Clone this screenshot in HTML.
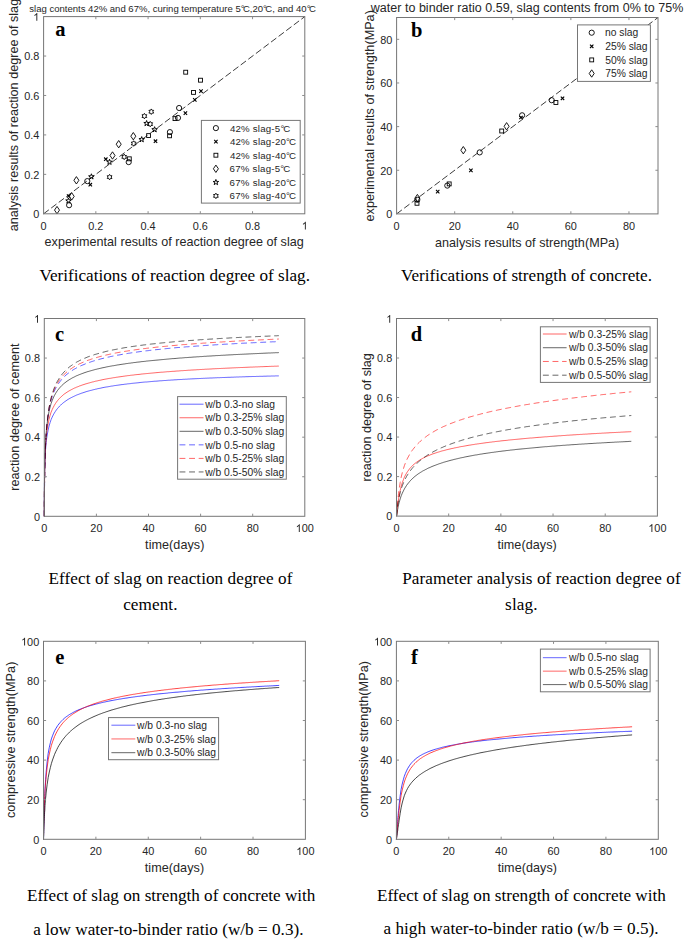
<!DOCTYPE html>
<html><head><meta charset="utf-8"><title>Figure</title>
<style>html,body{margin:0;padding:0;background:#fff;}body{width:685px;height:940px;overflow:hidden;}svg{display:block;}</style>
</head><body>
<svg width="685" height="940" viewBox="0 0 685 940" font-family="Liberation Sans, sans-serif">
<rect width="685" height="940" fill="#fff"/>
<path d="M43.6 213.8L304.8 16.599999999999994" stroke="#262626" stroke-width="0.9" stroke-dasharray="6.6 2.9" fill="none"/>
<circle cx="69.1" cy="205.2" r="2.6" fill="none" stroke="#000" stroke-width="0.9"/>
<circle cx="87.3" cy="181.1" r="2.6" fill="none" stroke="#000" stroke-width="0.9"/>
<circle cx="128.7" cy="162.1" r="2.6" fill="none" stroke="#000" stroke-width="0.9"/>
<circle cx="169.9" cy="132.1" r="2.6" fill="none" stroke="#000" stroke-width="0.9"/>
<circle cx="178" cy="117.9" r="2.6" fill="none" stroke="#000" stroke-width="0.9"/>
<circle cx="179.1" cy="108" r="2.6" fill="none" stroke="#000" stroke-width="0.9"/>
<path d="M66.90 194.30L70.30 197.70M66.90 197.70L70.30 194.30" stroke="#000" stroke-width="1.1"/>
<path d="M88.60 183.00L92.00 186.40M88.60 186.40L92.00 183.00" stroke="#000" stroke-width="1.1"/>
<path d="M104.10 157.50L107.50 160.90M104.10 160.90L107.50 157.50" stroke="#000" stroke-width="1.1"/>
<path d="M153.80 139.50L157.20 142.90M153.80 142.90L157.20 139.50" stroke="#000" stroke-width="1.1"/>
<path d="M183.70 111.40L187.10 114.80M183.70 114.80L187.10 111.40" stroke="#000" stroke-width="1.1"/>
<path d="M199.30 89.40L202.70 92.80M199.30 92.80L202.70 89.40" stroke="#000" stroke-width="1.1"/>
<path d="M193.10 98.20L196.50 101.60M193.10 101.60L196.50 98.20" stroke="#000" stroke-width="1.1"/>
<rect x="127.35" y="156.85" width="3.9" height="3.9" fill="none" stroke="#000" stroke-width="0.9"/>
<rect x="146.65" y="133.65" width="3.9" height="3.9" fill="none" stroke="#000" stroke-width="0.9"/>
<rect x="167.65" y="133.85" width="3.9" height="3.9" fill="none" stroke="#000" stroke-width="0.9"/>
<rect x="173.05" y="116.65" width="3.9" height="3.9" fill="none" stroke="#000" stroke-width="0.9"/>
<rect x="183.75" y="70.25" width="3.9" height="3.9" fill="none" stroke="#000" stroke-width="0.9"/>
<rect x="198.55" y="78.25" width="3.9" height="3.9" fill="none" stroke="#000" stroke-width="0.9"/>
<rect x="191.55" y="90.45" width="3.9" height="3.9" fill="none" stroke="#000" stroke-width="0.9"/>
<path d="M57 206.40L59.50 210.1L57 213.80L54.50 210.1Z" fill="none" stroke="#000" stroke-width="0.9"/>
<path d="M71.7 192.70L74.20 196.4L71.7 200.10L69.20 196.4Z" fill="none" stroke="#000" stroke-width="0.9"/>
<path d="M76.4 176.60L78.90 180.3L76.4 184.00L73.90 180.3Z" fill="none" stroke="#000" stroke-width="0.9"/>
<path d="M112.5 151.80L115.00 155.5L112.5 159.20L110.00 155.5Z" fill="none" stroke="#000" stroke-width="0.9"/>
<path d="M118.7 140.50L121.20 144.2L118.7 147.90L116.20 144.2Z" fill="none" stroke="#000" stroke-width="0.9"/>
<path d="M133.3 132.50L135.80 136.2L133.3 139.90L130.80 136.2Z" fill="none" stroke="#000" stroke-width="0.9"/>
<polygon points="68.50,197.90 69.18,199.87 71.26,199.90 69.59,201.16 70.20,203.15 68.50,201.95 66.80,203.15 67.41,201.16 65.74,199.90 67.82,199.87" fill="none" stroke="#000" stroke-width="0.95"/>
<polygon points="91.40,173.80 92.08,175.77 94.16,175.80 92.49,177.06 93.10,179.05 91.40,177.85 89.70,179.05 90.31,177.06 88.64,175.80 90.72,175.77" fill="none" stroke="#000" stroke-width="0.95"/>
<polygon points="109.50,159.20 110.18,161.17 112.26,161.20 110.59,162.46 111.20,164.45 109.50,163.25 107.80,164.45 108.41,162.46 106.74,161.20 108.82,161.17" fill="none" stroke="#000" stroke-width="0.95"/>
<polygon points="141.70,136.60 142.38,138.57 144.46,138.60 142.79,139.86 143.40,141.85 141.70,140.65 140.00,141.85 140.61,139.86 138.94,138.60 141.02,138.57" fill="none" stroke="#000" stroke-width="0.95"/>
<polygon points="154.60,126.70 155.28,128.67 157.36,128.70 155.69,129.96 156.30,131.95 154.60,130.75 152.90,131.95 153.51,129.96 151.84,128.70 153.92,128.67" fill="none" stroke="#000" stroke-width="0.95"/>
<polygon points="146.60,120.50 147.28,122.47 149.36,122.50 147.69,123.76 148.30,125.75 146.60,124.55 144.90,125.75 145.51,123.76 143.84,122.50 145.92,122.47" fill="none" stroke="#000" stroke-width="0.95"/>
<polygon points="109.60,174.35 110.40,175.71 111.98,175.72 111.20,177.10 111.98,178.47 110.40,178.49 109.60,179.85 108.80,178.49 107.22,178.47 108.00,177.10 107.22,175.72 108.80,175.71" fill="none" stroke="#000" stroke-width="0.9"/>
<polygon points="124.20,154.15 125.00,155.51 126.58,155.53 125.80,156.90 126.58,158.28 125.00,158.29 124.20,159.65 123.40,158.29 121.82,158.28 122.60,156.90 121.82,155.53 123.40,155.51" fill="none" stroke="#000" stroke-width="0.9"/>
<polygon points="133.70,140.75 134.50,142.11 136.08,142.12 135.30,143.50 136.08,144.88 134.50,144.89 133.70,146.25 132.90,144.89 131.32,144.88 132.10,143.50 131.32,142.12 132.90,142.11" fill="none" stroke="#000" stroke-width="0.9"/>
<polygon points="150.20,121.35 151.00,122.71 152.58,122.72 151.80,124.10 152.58,125.47 151.00,125.49 150.20,126.85 149.40,125.49 147.82,125.47 148.60,124.10 147.82,122.72 149.40,122.71" fill="none" stroke="#000" stroke-width="0.9"/>
<polygon points="144.40,113.35 145.20,114.71 146.78,114.72 146.00,116.10 146.78,117.47 145.20,117.49 144.40,118.85 143.60,117.49 142.02,117.47 142.80,116.10 142.02,114.72 143.60,114.71" fill="none" stroke="#000" stroke-width="0.9"/>
<polygon points="151.30,108.95 152.10,110.31 153.68,110.33 152.90,111.70 153.68,113.08 152.10,113.09 151.30,114.45 150.50,113.09 148.92,113.08 149.70,111.70 148.92,110.33 150.50,110.31" fill="none" stroke="#000" stroke-width="0.9"/>
<rect x="43.6" y="16.6" width="261.20" height="197.20" fill="none" stroke="#767676" stroke-width="1"/>
<path d="M95.84 213.8v-2.6M95.84 16.6v2.6M148.08 213.8v-2.6M148.08 16.6v2.6M200.32 213.8v-2.6M200.32 16.6v2.6M252.56 213.8v-2.6M252.56 16.6v2.6M43.6 174.36h2.6M304.8 174.36h-2.6M43.6 134.92h2.6M304.8 134.92h-2.6M43.6 95.48h2.6M304.8 95.48h-2.6M43.6 56.04h2.6M304.8 56.04h-2.6" stroke="#8c8c8c" stroke-width="1" fill="none"/>
<text x="40.57" y="229.60" font-size="10.9" fill="#262626">0</text>
<text x="88.26" y="229.60" font-size="10.9" fill="#262626">0.2</text>
<text x="140.50" y="229.60" font-size="10.9" fill="#262626">0.4</text>
<text x="192.74" y="229.60" font-size="10.9" fill="#262626">0.6</text>
<text x="244.98" y="229.60" font-size="10.9" fill="#262626">0.8</text>
<path transform="translate(301.77 229.60) scale(0.00532 -0.00532)" d="M763 0L583 0L583 1147Q518 1085 412 1023Q306 961 222 930L222 1104Q373 1175 486 1276Q599 1377 646 1466L763 1466Z" fill="#262626"/>
<text x="33.24" y="218.05" font-size="10.9" fill="#262626">0</text>
<text x="24.15" y="178.61" font-size="10.9" fill="#262626">0.2</text>
<text x="24.15" y="139.17" font-size="10.9" fill="#262626">0.4</text>
<text x="24.15" y="99.73" font-size="10.9" fill="#262626">0.6</text>
<text x="24.15" y="60.29" font-size="10.9" fill="#262626">0.8</text>
<path transform="translate(33.24 20.85) scale(0.00532 -0.00532)" d="M763 0L583 0L583 1147Q518 1085 412 1023Q306 961 222 930L222 1104Q373 1175 486 1276Q599 1377 646 1466L763 1466Z" fill="#262626"/>
<text x="29.26" y="12.00" font-family="Liberation Sans, sans-serif" font-size="9.55" letter-spacing="-0.006" fill="#262626">slag contents 42% and 67%, curing temperature 5°<tspan dx="-1.60">C</tspan>,20°<tspan dx="-1.60">C</tspan>, and 40°<tspan dx="-1.60">C</tspan></text>
<text x="44.60" y="246.20" font-family="Liberation Sans, sans-serif" font-size="12.6" letter-spacing="0.018" fill="#262626">experimental results of reaction degree of slag</text>
<text transform="translate(17.70 230.70) rotate(-90)" x="-0.50" y="0" font-family="Liberation Sans, sans-serif" font-size="12.6" letter-spacing="0.015" fill="#262626">analysis results of reaction degree of slag</text>
<text x="55.28" y="36.00" font-family="Liberation Serif, serif" font-weight="bold" font-size="20.5" letter-spacing="0.000" fill="#000">a</text>
<rect x="201.4" y="120.4" width="98.80" height="82.70" fill="#fff" stroke="#767676" stroke-width="1"/>
<circle cx="215.9" cy="128.1" r="2.6" fill="none" stroke="#000" stroke-width="0.9"/>
<text x="229.91" y="131.60" font-family="Liberation Sans, sans-serif" font-size="9.7" letter-spacing="0.202" fill="#262626">42% slag-5°<tspan dx="-1.20">C</tspan></text>
<path d="M214.20 139.96L217.60 143.36M214.20 143.36L217.60 139.96" stroke="#000" stroke-width="1.1"/>
<text x="229.91" y="145.16" font-family="Liberation Sans, sans-serif" font-size="9.7" letter-spacing="0.211" fill="#262626">42% slag-20°<tspan dx="-1.20">C</tspan></text>
<rect x="213.95" y="153.27" width="3.9" height="3.9" fill="none" stroke="#000" stroke-width="0.9"/>
<text x="229.91" y="158.72" font-family="Liberation Sans, sans-serif" font-size="9.7" letter-spacing="0.211" fill="#262626">42% slag-40°<tspan dx="-1.20">C</tspan></text>
<path d="M215.9 165.08L218.40 168.78L215.9 172.48L213.40 168.78Z" fill="none" stroke="#000" stroke-width="0.9"/>
<text x="229.61" y="172.28" font-family="Liberation Sans, sans-serif" font-size="9.7" letter-spacing="0.228" fill="#262626">67% slag-5°<tspan dx="-1.20">C</tspan></text>
<polygon points="215.90,179.44 216.58,181.41 218.66,181.44 216.99,182.70 217.60,184.69 215.90,183.49 214.20,184.69 214.81,182.70 213.14,181.44 215.22,181.41" fill="none" stroke="#000" stroke-width="0.95"/>
<text x="229.61" y="185.84" font-family="Liberation Sans, sans-serif" font-size="9.7" letter-spacing="0.236" fill="#262626">67% slag-20°<tspan dx="-1.20">C</tspan></text>
<polygon points="215.90,193.15 216.70,194.51 218.28,194.52 217.50,195.90 218.28,197.27 216.70,197.29 215.90,198.65 215.10,197.29 213.52,197.27 214.30,195.90 213.52,194.52 215.10,194.51" fill="none" stroke="#000" stroke-width="0.9"/>
<text x="229.61" y="199.40" font-family="Liberation Sans, sans-serif" font-size="9.7" letter-spacing="0.236" fill="#262626">67% slag-40°<tspan dx="-1.20">C</tspan></text>
<text x="39.43" y="281.30" font-family="Liberation Serif, serif" font-size="17.15" letter-spacing="0.006" fill="#000">Verifications of reaction degree of slag.</text>
<path d="M396.6 213.9L658.0 17.5" stroke="#262626" stroke-width="0.9" stroke-dasharray="6.6 2.9" fill="none"/>
<circle cx="417.3" cy="199.8" r="2.6" fill="none" stroke="#000" stroke-width="0.9"/>
<circle cx="447.3" cy="185.6" r="2.6" fill="none" stroke="#000" stroke-width="0.9"/>
<circle cx="479.7" cy="152.4" r="2.6" fill="none" stroke="#000" stroke-width="0.9"/>
<circle cx="522.1" cy="115.3" r="2.6" fill="none" stroke="#000" stroke-width="0.9"/>
<circle cx="551.7" cy="100.2" r="2.6" fill="none" stroke="#000" stroke-width="0.9"/>
<path d="M436.00 189.90L439.40 193.30M436.00 193.30L439.40 189.90" stroke="#000" stroke-width="1.1"/>
<path d="M469.20 168.70L472.60 172.10M469.20 172.10L472.60 168.70" stroke="#000" stroke-width="1.1"/>
<path d="M519.30 115.80L522.70 119.20M519.30 119.20L522.70 115.80" stroke="#000" stroke-width="1.1"/>
<path d="M560.80 96.60L564.20 100.00M560.80 100.00L564.20 96.60" stroke="#000" stroke-width="1.1"/>
<rect x="415.05" y="201.35" width="3.9" height="3.9" fill="none" stroke="#000" stroke-width="0.9"/>
<rect x="447.25" y="181.95" width="3.9" height="3.9" fill="none" stroke="#000" stroke-width="0.9"/>
<rect x="499.75" y="129.05" width="3.9" height="3.9" fill="none" stroke="#000" stroke-width="0.9"/>
<rect x="553.95" y="100.55" width="3.9" height="3.9" fill="none" stroke="#000" stroke-width="0.9"/>
<path d="M417.4 194.40L419.90 198.1L417.4 201.80L414.90 198.1Z" fill="none" stroke="#000" stroke-width="0.9"/>
<path d="M463.3 146.50L465.80 150.2L463.3 153.90L460.80 150.2Z" fill="none" stroke="#000" stroke-width="0.9"/>
<path d="M506.6 122.60L509.10 126.3L506.6 130.00L504.10 126.3Z" fill="none" stroke="#000" stroke-width="0.9"/>
<rect x="396.6" y="17.5" width="261.40" height="196.40" fill="none" stroke="#767676" stroke-width="1"/>
<path d="M454.69 213.9v-2.6M454.69 17.5v2.6M512.78 213.9v-2.6M512.78 17.5v2.6M570.87 213.9v-2.6M570.87 17.5v2.6M628.96 213.9v-2.6M628.96 17.5v2.6M396.6 170.26h2.6M658 170.26h-2.6M396.6 126.61h2.6M658 126.61h-2.6M396.6 82.97h2.6M658 82.97h-2.6M396.6 39.32h2.6M658 39.32h-2.6" stroke="#8c8c8c" stroke-width="1" fill="none"/>
<text x="393.57" y="229.70" font-size="10.9" fill="#262626">0</text>
<text x="448.63" y="229.70" font-size="10.9" fill="#262626">20</text>
<text x="506.72" y="229.70" font-size="10.9" fill="#262626">40</text>
<text x="564.80" y="229.70" font-size="10.9" fill="#262626">60</text>
<text x="622.89" y="229.70" font-size="10.9" fill="#262626">80</text>
<text x="386.24" y="218.15" font-size="10.9" fill="#262626">0</text>
<text x="380.18" y="174.51" font-size="10.9" fill="#262626">20</text>
<text x="380.18" y="130.86" font-size="10.9" fill="#262626">40</text>
<text x="380.18" y="87.22" font-size="10.9" fill="#262626">60</text>
<text x="380.18" y="43.57" font-size="10.9" fill="#262626">80</text>
<text x="370.76" y="11.80" font-family="Liberation Sans, sans-serif" font-size="12.5" letter-spacing="0.023" fill="#262626">water to binder ratio 0.59, slag contents from 0% to 75%</text>
<text x="435.00" y="246.80" font-family="Liberation Sans, sans-serif" font-size="12.6" letter-spacing="0.029" fill="#262626">analysis results of strength(MPa)</text>
<text transform="translate(373.90 221.00) rotate(-90)" x="-0.50" y="0" font-family="Liberation Sans, sans-serif" font-size="12.6" letter-spacing="0.038" fill="#262626">experimental results of strength(MPa)</text>
<text x="411.00" y="36.50" font-family="Liberation Serif, serif" font-weight="bold" font-size="20.5" letter-spacing="0.000" fill="#000">b</text>
<rect x="577.5" y="24.9" width="72.90" height="56.50" fill="#fff" stroke="#767676" stroke-width="1"/>
<circle cx="591.7" cy="32.7" r="2.6" fill="none" stroke="#000" stroke-width="0.9"/>
<text x="605.03" y="36.40" font-size="10.3" fill="#262626">no slag</text>
<path d="M590.00 44.60L593.40 48.00M590.00 48.00L593.40 44.60" stroke="#000" stroke-width="1.1"/>
<text x="605.19" y="50.00" font-size="10.3" fill="#262626">25% slag</text>
<rect x="589.75" y="57.95" width="3.9" height="3.9" fill="none" stroke="#000" stroke-width="0.9"/>
<text x="605.29" y="63.60" font-size="10.3" fill="#262626">50% slag</text>
<path d="M591.7 69.80L594.20 73.5L591.7 77.20L589.20 73.5Z" fill="none" stroke="#000" stroke-width="0.9"/>
<text x="605.19" y="77.20" font-size="10.3" fill="#262626">75% slag</text>
<text x="400.93" y="281.30" font-family="Liberation Serif, serif" font-size="17.15" letter-spacing="0.005" fill="#000">Verifications of strength of concrete.</text>
<path d="M44.3 516.3 44.3 507.1 44.3 506.3 44.3 505.4 44.3 504.4 44.3 503.4 44.3 502.2 44.3 501.0 44.3 499.6 44.3 498.9 44.3 498.2 44.3 497.4 44.3 496.6 44.3 495.8 44.3 495.0 44.3 494.1 44.4 493.2 44.4 492.3 44.4 491.3 44.4 490.3 44.4 489.2 44.4 488.1 44.4 487.0 44.4 485.9 44.4 484.7 44.4 483.5 44.5 482.2 44.5 480.9 44.5 479.6 44.5 478.3 44.5 476.9 44.6 475.4 44.6 473.9 44.6 472.4 44.7 470.9 44.7 469.3 44.7 467.7 44.8 466.1 44.8 464.4 44.9 462.7 45.0 461.0 45.0 459.2 45.1 457.5 45.2 455.7 45.3 453.8 45.4 452.0 45.5 450.1 45.7 448.3 45.8 446.4 46.0 444.5 46.2 442.6 46.4 440.7 46.6 438.8 46.9 436.9 48.0 430.7 49.0 426.1 50.1 422.5 51.1 419.6 52.2 417.1 53.3 414.9 54.3 413.1 55.4 411.4 56.4 409.9 57.5 408.5 58.6 407.3 59.6 406.1 60.7 405.1 61.7 404.1 62.8 403.2 63.8 402.4 64.9 401.6 66.0 400.8 67.0 400.1 68.1 399.4 69.1 398.8 70.2 398.2 71.3 397.6 72.3 397.1 73.4 396.6 74.4 396.1 75.5 395.6 76.5 395.1 77.6 394.7 78.7 394.3 79.7 393.9 80.8 393.5 81.8 393.1 82.9 392.8 84.0 392.4 85.0 392.1 86.1 391.7 87.1 391.4 88.2 391.1 89.3 390.8 90.3 390.5 91.4 390.3 92.4 390.0 93.5 389.7 94.5 389.5 95.6 389.2 96.7 389.0 97.7 388.7 98.8 388.5 99.8 388.3 100.9 388.1 102.0 387.8 103.0 387.6 104.1 387.4 105.1 387.2 106.2 387.0 107.2 386.9 108.3 386.7 109.4 386.5 110.4 386.3 111.5 386.1 112.5 386.0 113.6 385.8 114.7 385.6 115.7 385.5 116.8 385.3 117.8 385.2 118.9 385.0 120.0 384.9 121.0 384.7 122.1 384.6 123.1 384.5 124.2 384.3 125.2 384.2 126.3 384.1 127.4 383.9 128.4 383.8 129.5 383.7 130.5 383.6 131.6 383.4 132.7 383.3 133.7 383.2 134.8 383.1 135.8 383.0 136.9 382.9 137.9 382.8 139.0 382.7 140.1 382.5 141.1 382.4 142.2 382.3 143.2 382.2 144.3 382.1 145.4 382.0 146.4 382.0 147.5 381.9 148.5 381.8 149.6 381.7 150.7 381.6 151.7 381.5 152.8 381.4 153.8 381.3 154.9 381.2 155.9 381.2 157.0 381.1 158.1 381.0 159.1 380.9 160.2 380.8 161.2 380.8 162.3 380.7 163.4 380.6 164.4 380.5 165.5 380.5 166.5 380.4 167.6 380.3 168.7 380.2 169.7 380.2 170.8 380.1 171.8 380.0 172.9 380.0 173.9 379.9 175.0 379.8 176.1 379.8 177.1 379.7 178.2 379.6 179.2 379.6 180.3 379.5 181.4 379.5 182.4 379.4 183.5 379.3 184.5 379.3 185.6 379.2 186.6 379.2 187.7 379.1 188.8 379.0 189.8 379.0 190.9 378.9 191.9 378.9 193.0 378.8 194.1 378.8 195.1 378.7 196.2 378.7 197.2 378.6 198.3 378.6 199.4 378.5 200.4 378.5 201.5 378.4 202.5 378.4 203.6 378.3 204.6 378.3 205.7 378.2 206.8 378.2 207.8 378.1 208.9 378.1 209.9 378.0 211.0 378.0 212.1 378.0 213.1 377.9 214.2 377.9 215.2 377.8 216.3 377.8 217.3 377.7 218.4 377.7 219.5 377.7 220.5 377.6 221.6 377.6 222.6 377.5 223.7 377.5 224.8 377.5 225.8 377.4 226.9 377.4 227.9 377.3 229.0 377.3 230.1 377.3 231.1 377.2 232.2 377.2 233.2 377.2 234.3 377.1 235.3 377.1 236.4 377.0 237.5 377.0 238.5 377.0 239.6 376.9 240.6 376.9 241.7 376.9 242.8 376.8 243.8 376.8 244.9 376.8 245.9 376.7 247.0 376.7 248.0 376.7 249.1 376.6 250.2 376.6 251.2 376.6 252.3 376.5 253.3 376.5 254.4 376.5 255.5 376.5 256.5 376.4 257.6 376.4 258.6 376.4 259.7 376.3 260.8 376.3 261.8 376.3 262.9 376.3 263.9 376.2 265.0 376.2 266.0 376.2 267.1 376.1 268.2 376.1 269.2 376.1 270.3 376.1 271.3 376.0 272.4 376.0 273.5 376.0 274.5 376.0 275.6 375.9 276.6 375.9 277.7 375.9 278.8 375.9" fill="none" stroke="#0000ff" stroke-width="1.0" stroke-opacity="0.6"/>
<path d="M44.3 516.3 44.3 515.6 44.3 514.8 44.3 513.9 44.3 513.0 44.3 512.0 44.3 510.7 44.3 510.0 44.3 509.2 44.3 508.3 44.3 507.4 44.3 506.4 44.4 505.3 44.4 504.2 44.4 503.0 44.4 501.7 44.4 500.4 44.4 499.0 44.4 497.5 44.4 495.9 44.4 494.3 44.4 492.6 44.5 490.9 44.5 489.1 44.5 487.2 44.5 485.3 44.5 483.3 44.6 481.3 44.6 479.2 44.6 477.1 44.7 475.0 44.7 472.8 44.7 470.6 44.8 468.4 44.8 466.1 44.9 463.8 45.0 461.5 45.0 459.2 45.1 456.9 45.2 454.6 45.3 452.2 45.4 449.9 45.5 447.6 45.7 445.3 45.8 442.9 46.0 440.6 46.2 438.3 46.4 436.1 46.6 433.8 46.9 431.6 48.0 424.5 49.0 419.4 50.1 415.4 51.1 412.2 52.2 409.6 53.3 407.3 54.3 405.4 55.4 403.6 56.4 402.1 57.5 400.7 58.6 399.4 59.6 398.3 60.7 397.2 61.7 396.2 62.8 395.3 63.8 394.4 64.9 393.6 66.0 392.9 67.0 392.2 68.1 391.5 69.1 390.9 70.2 390.3 71.3 389.7 72.3 389.2 73.4 388.6 74.4 388.1 75.5 387.7 76.5 387.2 77.6 386.8 78.7 386.4 79.7 385.9 80.8 385.6 81.8 385.2 82.9 384.8 84.0 384.5 85.0 384.1 86.1 383.8 87.1 383.5 88.2 383.2 89.3 382.9 90.3 382.6 91.4 382.3 92.4 382.0 93.5 381.8 94.5 381.5 95.6 381.2 96.7 381.0 97.7 380.8 98.8 380.5 99.8 380.3 100.9 380.1 102.0 379.8 103.0 379.6 104.1 379.4 105.1 379.2 106.2 379.0 107.2 378.8 108.3 378.6 109.4 378.4 110.4 378.3 111.5 378.1 112.5 377.9 113.6 377.7 114.7 377.6 115.7 377.4 116.8 377.2 117.8 377.1 118.9 376.9 120.0 376.8 121.0 376.6 122.1 376.5 123.1 376.3 124.2 376.2 125.2 376.0 126.3 375.9 127.4 375.7 128.4 375.6 129.5 375.5 130.5 375.3 131.6 375.2 132.7 375.1 133.7 375.0 134.8 374.8 135.8 374.7 136.9 374.6 137.9 374.5 139.0 374.4 140.1 374.3 141.1 374.1 142.2 374.0 143.2 373.9 144.3 373.8 145.4 373.7 146.4 373.6 147.5 373.5 148.5 373.4 149.6 373.3 150.7 373.2 151.7 373.1 152.8 373.0 153.8 372.9 154.9 372.8 155.9 372.7 157.0 372.6 158.1 372.5 159.1 372.4 160.2 372.3 161.2 372.2 162.3 372.2 163.4 372.1 164.4 372.0 165.5 371.9 166.5 371.8 167.6 371.7 168.7 371.7 169.7 371.6 170.8 371.5 171.8 371.4 172.9 371.3 173.9 371.3 175.0 371.2 176.1 371.1 177.1 371.0 178.2 371.0 179.2 370.9 180.3 370.8 181.4 370.7 182.4 370.7 183.5 370.6 184.5 370.5 185.6 370.5 186.6 370.4 187.7 370.3 188.8 370.2 189.8 370.2 190.9 370.1 191.9 370.0 193.0 370.0 194.1 369.9 195.1 369.9 196.2 369.8 197.2 369.7 198.3 369.7 199.4 369.6 200.4 369.5 201.5 369.5 202.5 369.4 203.6 369.4 204.6 369.3 205.7 369.2 206.8 369.2 207.8 369.1 208.9 369.1 209.9 369.0 211.0 369.0 212.1 368.9 213.1 368.8 214.2 368.8 215.2 368.7 216.3 368.7 217.3 368.6 218.4 368.6 219.5 368.5 220.5 368.5 221.6 368.4 222.6 368.4 223.7 368.3 224.8 368.3 225.8 368.2 226.9 368.2 227.9 368.1 229.0 368.1 230.1 368.0 231.1 368.0 232.2 367.9 233.2 367.9 234.3 367.8 235.3 367.8 236.4 367.7 237.5 367.7 238.5 367.6 239.6 367.6 240.6 367.5 241.7 367.5 242.8 367.5 243.8 367.4 244.9 367.4 245.9 367.3 247.0 367.3 248.0 367.2 249.1 367.2 250.2 367.1 251.2 367.1 252.3 367.1 253.3 367.0 254.4 367.0 255.5 366.9 256.5 366.9 257.6 366.9 258.6 366.8 259.7 366.8 260.8 366.7 261.8 366.7 262.9 366.7 263.9 366.6 265.0 366.6 266.0 366.5 267.1 366.5 268.2 366.5 269.2 366.4 270.3 366.4 271.3 366.3 272.4 366.3 273.5 366.3 274.5 366.2 275.6 366.2 276.6 366.2 277.7 366.1 278.8 366.1" fill="none" stroke="#ff0000" stroke-width="1.0" stroke-opacity="0.6"/>
<path d="M44.3 516.3 44.3 512.1 44.3 511.2 44.3 510.5 44.3 509.7 44.3 508.8 44.3 507.8 44.3 506.7 44.3 505.4 44.3 504.7 44.3 503.9 44.3 503.1 44.3 502.3 44.3 501.4 44.3 500.5 44.4 499.5 44.4 498.5 44.4 497.4 44.4 496.3 44.4 495.1 44.4 493.8 44.4 492.5 44.4 491.1 44.4 489.7 44.4 488.2 44.5 486.6 44.5 485.0 44.5 483.3 44.5 481.5 44.5 479.7 44.6 477.8 44.6 475.8 44.6 473.8 44.7 471.8 44.7 469.6 44.7 467.5 44.8 465.2 44.8 462.9 44.9 460.6 45.0 458.2 45.0 455.8 45.1 453.4 45.2 450.9 45.3 448.4 45.4 445.9 45.5 443.3 45.7 440.8 45.8 438.2 46.0 435.6 46.2 433.1 46.4 430.5 46.6 427.9 46.9 425.4 48.0 417.4 49.0 411.5 50.1 407.1 51.1 403.5 52.2 400.5 53.3 397.9 54.3 395.7 55.4 393.8 56.4 392.1 57.5 390.5 58.6 389.1 59.6 387.9 60.7 386.7 61.7 385.6 62.8 384.6 63.8 383.7 64.9 382.8 66.0 382.0 67.0 381.2 68.1 380.5 69.1 379.8 70.2 379.2 71.3 378.5 72.3 377.9 73.4 377.4 74.4 376.9 75.5 376.3 76.5 375.8 77.6 375.4 78.7 374.9 79.7 374.5 80.8 374.1 81.8 373.7 82.9 373.3 84.0 372.9 85.0 372.5 86.1 372.2 87.1 371.8 88.2 371.5 89.3 371.2 90.3 370.9 91.4 370.6 92.4 370.3 93.5 370.0 94.5 369.7 95.6 369.4 96.7 369.2 97.7 368.9 98.8 368.7 99.8 368.4 100.9 368.2 102.0 367.9 103.0 367.7 104.1 367.5 105.1 367.3 106.2 367.0 107.2 366.8 108.3 366.6 109.4 366.4 110.4 366.2 111.5 366.0 112.5 365.8 113.6 365.7 114.7 365.5 115.7 365.3 116.8 365.1 117.8 364.9 118.9 364.8 120.0 364.6 121.0 364.4 122.1 364.3 123.1 364.1 124.2 364.0 125.2 363.8 126.3 363.6 127.4 363.5 128.4 363.3 129.5 363.2 130.5 363.1 131.6 362.9 132.7 362.8 133.7 362.6 134.8 362.5 135.8 362.4 136.9 362.2 137.9 362.1 139.0 362.0 140.1 361.9 141.1 361.7 142.2 361.6 143.2 361.5 144.3 361.4 145.4 361.3 146.4 361.1 147.5 361.0 148.5 360.9 149.6 360.8 150.7 360.7 151.7 360.6 152.8 360.5 153.8 360.4 154.9 360.3 155.9 360.2 157.0 360.1 158.1 360.0 159.1 359.9 160.2 359.8 161.2 359.7 162.3 359.6 163.4 359.5 164.4 359.4 165.5 359.3 166.5 359.2 167.6 359.1 168.7 359.0 169.7 358.9 170.8 358.8 171.8 358.7 172.9 358.6 173.9 358.6 175.0 358.5 176.1 358.4 177.1 358.3 178.2 358.2 179.2 358.1 180.3 358.0 181.4 358.0 182.4 357.9 183.5 357.8 184.5 357.7 185.6 357.6 186.6 357.6 187.7 357.5 188.8 357.4 189.8 357.3 190.9 357.3 191.9 357.2 193.0 357.1 194.1 357.0 195.1 357.0 196.2 356.9 197.2 356.8 198.3 356.8 199.4 356.7 200.4 356.6 201.5 356.6 202.5 356.5 203.6 356.4 204.6 356.3 205.7 356.3 206.8 356.2 207.8 356.1 208.9 356.1 209.9 356.0 211.0 356.0 212.1 355.9 213.1 355.8 214.2 355.8 215.2 355.7 216.3 355.6 217.3 355.6 218.4 355.5 219.5 355.5 220.5 355.4 221.6 355.3 222.6 355.3 223.7 355.2 224.8 355.2 225.8 355.1 226.9 355.0 227.9 355.0 229.0 354.9 230.1 354.9 231.1 354.8 232.2 354.8 233.2 354.7 234.3 354.6 235.3 354.6 236.4 354.5 237.5 354.5 238.5 354.4 239.6 354.4 240.6 354.3 241.7 354.3 242.8 354.2 243.8 354.2 244.9 354.1 245.9 354.1 247.0 354.0 248.0 354.0 249.1 353.9 250.2 353.9 251.2 353.8 252.3 353.8 253.3 353.7 254.4 353.7 255.5 353.6 256.5 353.6 257.6 353.5 258.6 353.5 259.7 353.4 260.8 353.4 261.8 353.3 262.9 353.3 263.9 353.2 265.0 353.2 266.0 353.1 267.1 353.1 268.2 353.0 269.2 353.0 270.3 353.0 271.3 352.9 272.4 352.9 273.5 352.8 274.5 352.8 275.6 352.7 276.6 352.7 277.7 352.7 278.8 352.6" fill="none" stroke="#000000" stroke-width="1.0" stroke-opacity="0.6"/>
<path d="M44.3 516.3 44.3 515.5 44.3 514.6 44.3 513.9 44.3 512.9 44.3 511.7 44.3 511.0 44.3 510.2 44.4 509.3 44.4 508.4 44.4 507.3 44.4 506.2 44.4 505.0 44.4 503.6 44.4 502.2 44.4 500.7 44.4 499.1 44.4 497.4 44.5 495.6 44.5 493.7 44.5 491.7 44.5 489.7 44.5 487.5 44.6 485.3 44.6 483.0 44.6 480.6 44.7 478.1 44.7 475.6 44.7 473.0 44.8 470.4 44.8 467.7 44.9 465.0 45.0 462.2 45.0 459.4 45.1 456.6 45.2 453.7 45.3 450.8 45.4 447.9 45.5 445.0 45.7 442.1 45.8 439.2 46.0 436.3 46.2 433.4 46.4 430.5 46.6 427.6 46.9 424.8 48.0 415.7 49.0 409.2 50.1 404.1 51.1 400.0 52.2 396.6 53.3 393.7 54.3 391.1 55.4 388.9 56.4 386.9 57.5 385.1 58.6 383.5 59.6 382.0 60.7 380.7 61.7 379.4 62.8 378.2 63.8 377.1 64.9 376.1 66.0 375.1 67.0 374.2 68.1 373.4 69.1 372.6 70.2 371.8 71.3 371.1 72.3 370.4 73.4 369.7 74.4 369.1 75.5 368.5 76.5 367.9 77.6 367.4 78.7 366.8 79.7 366.3 80.8 365.8 81.8 365.4 82.9 364.9 84.0 364.5 85.0 364.0 86.1 363.6 87.1 363.2 88.2 362.8 89.3 362.4 90.3 362.1 91.4 361.7 92.4 361.4 93.5 361.0 94.5 360.7 95.6 360.4 96.7 360.1 97.7 359.8 98.8 359.5 99.8 359.2 100.9 358.9 102.0 358.6 103.0 358.4 104.1 358.1 105.1 357.8 106.2 357.6 107.2 357.3 108.3 357.1 109.4 356.9 110.4 356.6 111.5 356.4 112.5 356.2 113.6 356.0 114.7 355.8 115.7 355.6 116.8 355.3 117.8 355.1 118.9 355.0 120.0 354.8 121.0 354.6 122.1 354.4 123.1 354.2 124.2 354.0 125.2 353.8 126.3 353.7 127.4 353.5 128.4 353.3 129.5 353.2 130.5 353.0 131.6 352.8 132.7 352.7 133.7 352.5 134.8 352.4 135.8 352.2 136.9 352.1 137.9 351.9 139.0 351.8 140.1 351.6 141.1 351.5 142.2 351.4 143.2 351.2 144.3 351.1 145.4 350.9 146.4 350.8 147.5 350.7 148.5 350.6 149.6 350.4 150.7 350.3 151.7 350.2 152.8 350.1 153.8 349.9 154.9 349.8 155.9 349.7 157.0 349.6 158.1 349.5 159.1 349.4 160.2 349.3 161.2 349.1 162.3 349.0 163.4 348.9 164.4 348.8 165.5 348.7 166.5 348.6 167.6 348.5 168.7 348.4 169.7 348.3 170.8 348.2 171.8 348.1 172.9 348.0 173.9 347.9 175.0 347.8 176.1 347.7 177.1 347.6 178.2 347.5 179.2 347.5 180.3 347.4 181.4 347.3 182.4 347.2 183.5 347.1 184.5 347.0 185.6 346.9 186.6 346.8 187.7 346.8 188.8 346.7 189.8 346.6 190.9 346.5 191.9 346.4 193.0 346.4 194.1 346.3 195.1 346.2 196.2 346.1 197.2 346.0 198.3 346.0 199.4 345.9 200.4 345.8 201.5 345.7 202.5 345.7 203.6 345.6 204.6 345.5 205.7 345.4 206.8 345.4 207.8 345.3 208.9 345.2 209.9 345.2 211.0 345.1 212.1 345.0 213.1 345.0 214.2 344.9 215.2 344.8 216.3 344.8 217.3 344.7 218.4 344.6 219.5 344.6 220.5 344.5 221.6 344.4 222.6 344.4 223.7 344.3 224.8 344.2 225.8 344.2 226.9 344.1 227.9 344.1 229.0 344.0 230.1 343.9 231.1 343.9 232.2 343.8 233.2 343.8 234.3 343.7 235.3 343.6 236.4 343.6 237.5 343.5 238.5 343.5 239.6 343.4 240.6 343.4 241.7 343.3 242.8 343.2 243.8 343.2 244.9 343.1 245.9 343.1 247.0 343.0 248.0 343.0 249.1 342.9 250.2 342.9 251.2 342.8 252.3 342.8 253.3 342.7 254.4 342.7 255.5 342.6 256.5 342.6 257.6 342.5 258.6 342.5 259.7 342.4 260.8 342.4 261.8 342.3 262.9 342.3 263.9 342.2 265.0 342.2 266.0 342.1 267.1 342.1 268.2 342.0 269.2 342.0 270.3 341.9 271.3 341.9 272.4 341.8 273.5 341.8 274.5 341.8 275.6 341.7 276.6 341.7 277.7 341.6 278.8 341.6" fill="none" stroke="#0000ff" stroke-width="1.0" stroke-opacity="0.6" stroke-dasharray="5.9 3.7"/>
<path d="M44.3 516.3 44.3 512.7 44.3 511.9 44.3 511.0 44.3 510.2 44.3 509.4 44.3 508.4 44.3 507.4 44.3 506.1 44.3 504.8 44.3 504.0 44.3 503.2 44.3 502.4 44.4 501.5 44.4 500.6 44.4 499.6 44.4 498.5 44.4 497.4 44.4 496.2 44.4 495.0 44.4 493.7 44.4 492.4 44.4 490.9 44.5 489.5 44.5 487.9 44.5 486.3 44.5 484.6 44.5 482.8 44.6 480.9 44.6 479.0 44.6 477.0 44.7 474.9 44.7 472.8 44.7 470.6 44.8 468.3 44.8 465.9 44.9 463.5 45.0 461.0 45.0 458.4 45.1 455.8 45.2 453.2 45.3 450.5 45.4 447.7 45.5 444.9 45.7 442.1 45.8 439.2 46.0 436.3 46.2 433.4 46.4 430.5 46.6 427.6 46.9 424.6 48.0 415.2 49.0 408.3 50.1 403.0 51.1 398.7 52.2 395.1 53.3 392.0 54.3 389.3 55.4 387.0 56.4 384.9 57.5 383.0 58.6 381.3 59.6 379.8 60.7 378.4 61.7 377.1 62.8 375.8 63.8 374.7 64.9 373.7 66.0 372.7 67.0 371.8 68.1 370.9 69.1 370.1 70.2 369.3 71.3 368.6 72.3 367.9 73.4 367.2 74.4 366.6 75.5 365.9 76.5 365.4 77.6 364.8 78.7 364.3 79.7 363.7 80.8 363.3 81.8 362.8 82.9 362.3 84.0 361.9 85.0 361.4 86.1 361.0 87.1 360.6 88.2 360.2 89.3 359.9 90.3 359.5 91.4 359.1 92.4 358.8 93.5 358.5 94.5 358.1 95.6 357.8 96.7 357.5 97.7 357.2 98.8 356.9 99.8 356.6 100.9 356.3 102.0 356.1 103.0 355.8 104.1 355.5 105.1 355.3 106.2 355.0 107.2 354.8 108.3 354.6 109.4 354.3 110.4 354.1 111.5 353.9 112.5 353.7 113.6 353.4 114.7 353.2 115.7 353.0 116.8 352.8 117.8 352.6 118.9 352.4 120.0 352.2 121.0 352.1 122.1 351.9 123.1 351.7 124.2 351.5 125.2 351.3 126.3 351.2 127.4 351.0 128.4 350.8 129.5 350.7 130.5 350.5 131.6 350.3 132.7 350.2 133.7 350.0 134.8 349.9 135.8 349.7 136.9 349.6 137.9 349.4 139.0 349.3 140.1 349.2 141.1 349.0 142.2 348.9 143.2 348.7 144.3 348.6 145.4 348.5 146.4 348.3 147.5 348.2 148.5 348.1 149.6 348.0 150.7 347.8 151.7 347.7 152.8 347.6 153.8 347.5 154.9 347.4 155.9 347.2 157.0 347.1 158.1 347.0 159.1 346.9 160.2 346.8 161.2 346.7 162.3 346.6 163.4 346.5 164.4 346.4 165.5 346.3 166.5 346.2 167.6 346.1 168.7 346.0 169.7 345.9 170.8 345.8 171.8 345.7 172.9 345.6 173.9 345.5 175.0 345.4 176.1 345.3 177.1 345.2 178.2 345.1 179.2 345.0 180.3 344.9 181.4 344.8 182.4 344.7 183.5 344.6 184.5 344.6 185.6 344.5 186.6 344.4 187.7 344.3 188.8 344.2 189.8 344.1 190.9 344.1 191.9 344.0 193.0 343.9 194.1 343.8 195.1 343.7 196.2 343.7 197.2 343.6 198.3 343.5 199.4 343.4 200.4 343.3 201.5 343.3 202.5 343.2 203.6 343.1 204.6 343.1 205.7 343.0 206.8 342.9 207.8 342.8 208.9 342.8 209.9 342.7 211.0 342.6 212.1 342.6 213.1 342.5 214.2 342.4 215.2 342.4 216.3 342.3 217.3 342.2 218.4 342.2 219.5 342.1 220.5 342.0 221.6 342.0 222.6 341.9 223.7 341.8 224.8 341.8 225.8 341.7 226.9 341.6 227.9 341.6 229.0 341.5 230.1 341.5 231.1 341.4 232.2 341.3 233.2 341.3 234.3 341.2 235.3 341.2 236.4 341.1 237.5 341.0 238.5 341.0 239.6 340.9 240.6 340.9 241.7 340.8 242.8 340.8 243.8 340.7 244.9 340.6 245.9 340.6 247.0 340.5 248.0 340.5 249.1 340.4 250.2 340.4 251.2 340.3 252.3 340.3 253.3 340.2 254.4 340.2 255.5 340.1 256.5 340.1 257.6 340.0 258.6 340.0 259.7 339.9 260.8 339.9 261.8 339.8 262.9 339.8 263.9 339.7 265.0 339.7 266.0 339.6 267.1 339.6 268.2 339.5 269.2 339.5 270.3 339.4 271.3 339.4 272.4 339.3 273.5 339.3 274.5 339.2 275.6 339.2 276.6 339.1 277.7 339.1 278.8 339.0" fill="none" stroke="#ff0000" stroke-width="1.0" stroke-opacity="0.6" stroke-dasharray="5.9 3.7"/>
<path d="M44.3 516.3 44.3 512.6 44.3 511.8 44.3 510.8 44.3 510.1 44.3 509.2 44.3 508.3 44.3 507.2 44.3 506.0 44.3 504.7 44.3 503.9 44.3 503.2 44.3 502.3 44.4 501.5 44.4 500.6 44.4 499.6 44.4 498.6 44.4 497.5 44.4 496.4 44.4 495.2 44.4 493.9 44.4 492.6 44.4 491.2 44.5 489.8 44.5 488.2 44.5 486.7 44.5 485.0 44.5 483.3 44.6 481.5 44.6 479.6 44.6 477.6 44.7 475.6 44.7 473.5 44.7 471.3 44.8 469.0 44.8 466.7 44.9 464.3 45.0 461.8 45.0 459.3 45.1 456.7 45.2 454.1 45.3 451.3 45.4 448.6 45.5 445.7 45.7 442.9 45.8 440.0 46.0 437.0 46.2 434.1 46.4 431.1 46.6 428.0 46.9 425.0 48.0 415.2 49.0 408.0 50.1 402.4 51.1 397.8 52.2 393.9 53.3 390.7 54.3 387.8 55.4 385.3 56.4 383.1 57.5 381.1 58.6 379.3 59.6 377.6 60.7 376.1 61.7 374.7 62.8 373.4 63.8 372.2 64.9 371.1 66.0 370.0 67.0 369.0 68.1 368.1 69.1 367.2 70.2 366.4 71.3 365.6 72.3 364.9 73.4 364.2 74.4 363.5 75.5 362.8 76.5 362.2 77.6 361.6 78.7 361.1 79.7 360.5 80.8 360.0 81.8 359.5 82.9 359.0 84.0 358.5 85.0 358.1 86.1 357.7 87.1 357.2 88.2 356.8 89.3 356.4 90.3 356.0 91.4 355.7 92.4 355.3 93.5 355.0 94.5 354.6 95.6 354.3 96.7 354.0 97.7 353.7 98.8 353.4 99.8 353.1 100.9 352.8 102.0 352.5 103.0 352.2 104.1 352.0 105.1 351.7 106.2 351.4 107.2 351.2 108.3 350.9 109.4 350.7 110.4 350.5 111.5 350.2 112.5 350.0 113.6 349.8 114.7 349.6 115.7 349.4 116.8 349.2 117.8 349.0 118.9 348.8 120.0 348.6 121.0 348.4 122.1 348.2 123.1 348.0 124.2 347.8 125.2 347.6 126.3 347.5 127.4 347.3 128.4 347.1 129.5 347.0 130.5 346.8 131.6 346.6 132.7 346.5 133.7 346.3 134.8 346.2 135.8 346.0 136.9 345.9 137.9 345.7 139.0 345.6 140.1 345.4 141.1 345.3 142.2 345.2 143.2 345.0 144.3 344.9 145.4 344.8 146.4 344.6 147.5 344.5 148.5 344.4 149.6 344.3 150.7 344.1 151.7 344.0 152.8 343.9 153.8 343.8 154.9 343.7 155.9 343.6 157.0 343.4 158.1 343.3 159.1 343.2 160.2 343.1 161.2 343.0 162.3 342.9 163.4 342.8 164.4 342.7 165.5 342.6 166.5 342.5 167.6 342.4 168.7 342.3 169.7 342.2 170.8 342.1 171.8 342.0 172.9 341.9 173.9 341.8 175.0 341.7 176.1 341.6 177.1 341.5 178.2 341.4 179.2 341.3 180.3 341.3 181.4 341.2 182.4 341.1 183.5 341.0 184.5 340.9 185.6 340.8 186.6 340.8 187.7 340.7 188.8 340.6 189.8 340.5 190.9 340.4 191.9 340.4 193.0 340.3 194.1 340.2 195.1 340.1 196.2 340.0 197.2 340.0 198.3 339.9 199.4 339.8 200.4 339.7 201.5 339.7 202.5 339.6 203.6 339.5 204.6 339.5 205.7 339.4 206.8 339.3 207.8 339.3 208.9 339.2 209.9 339.1 211.0 339.1 212.1 339.0 213.1 338.9 214.2 338.9 215.2 338.8 216.3 338.7 217.3 338.7 218.4 338.6 219.5 338.5 220.5 338.5 221.6 338.4 222.6 338.4 223.7 338.3 224.8 338.2 225.8 338.2 226.9 338.1 227.9 338.1 229.0 338.0 230.1 337.9 231.1 337.9 232.2 337.8 233.2 337.8 234.3 337.7 235.3 337.7 236.4 337.6 237.5 337.5 238.5 337.5 239.6 337.4 240.6 337.4 241.7 337.3 242.8 337.3 243.8 337.2 244.9 337.2 245.9 337.1 247.0 337.1 248.0 337.0 249.1 337.0 250.2 336.9 251.2 336.9 252.3 336.8 253.3 336.8 254.4 336.7 255.5 336.7 256.5 336.6 257.6 336.6 258.6 336.5 259.7 336.5 260.8 336.4 261.8 336.4 262.9 336.3 263.9 336.3 265.0 336.2 266.0 336.2 267.1 336.2 268.2 336.1 269.2 336.1 270.3 336.0 271.3 336.0 272.4 335.9 273.5 335.9 274.5 335.8 275.6 335.8 276.6 335.8 277.7 335.7 278.8 335.7" fill="none" stroke="#000000" stroke-width="1.0" stroke-opacity="0.6" stroke-dasharray="5.9 3.7"/>
<rect x="44.3" y="318.5" width="260.50" height="197.80" fill="none" stroke="#767676" stroke-width="1"/>
<path d="M96.40 516.3v-2.6M96.40 318.5v2.6M148.50 516.3v-2.6M148.50 318.5v2.6M200.60 516.3v-2.6M200.60 318.5v2.6M252.70 516.3v-2.6M252.70 318.5v2.6M44.3 476.74h2.6M304.8 476.74h-2.6M44.3 437.18h2.6M304.8 437.18h-2.6M44.3 397.62h2.6M304.8 397.62h-2.6M44.3 358.06h2.6M304.8 358.06h-2.6" stroke="#8c8c8c" stroke-width="1" fill="none"/>
<text x="41.27" y="532.10" font-size="10.9" fill="#262626">0</text>
<text x="90.34" y="532.10" font-size="10.9" fill="#262626">20</text>
<text x="142.44" y="532.10" font-size="10.9" fill="#262626">40</text>
<text x="194.54" y="532.10" font-size="10.9" fill="#262626">60</text>
<text x="246.64" y="532.10" font-size="10.9" fill="#262626">80</text>
<path transform="translate(295.71 532.10) scale(0.00532 -0.00532)" d="M763 0L583 0L583 1147Q518 1085 412 1023Q306 961 222 930L222 1104Q373 1175 486 1276Q599 1377 646 1466L763 1466Z" fill="#262626"/>
<text x="301.77" y="532.10" font-size="10.9" fill="#262626">0</text>
<text x="307.83" y="532.10" font-size="10.9" fill="#262626">0</text>
<text x="33.94" y="520.55" font-size="10.9" fill="#262626">0</text>
<text x="24.85" y="480.99" font-size="10.9" fill="#262626">0.2</text>
<text x="24.85" y="441.43" font-size="10.9" fill="#262626">0.4</text>
<text x="24.85" y="401.87" font-size="10.9" fill="#262626">0.6</text>
<text x="24.85" y="362.31" font-size="10.9" fill="#262626">0.8</text>
<path transform="translate(33.94 322.75) scale(0.00532 -0.00532)" d="M763 0L583 0L583 1147Q518 1085 412 1023Q306 961 222 930L222 1104Q373 1175 486 1276Q599 1377 646 1466L763 1466Z" fill="#262626"/>
<text x="145.11" y="549.30" font-family="Liberation Sans, sans-serif" font-size="12.6" letter-spacing="0.056" fill="#262626">time(days)</text>
<text transform="translate(18.80 489.90) rotate(-90)" x="-0.82" y="0" font-family="Liberation Sans, sans-serif" font-size="12.6" letter-spacing="0.040" fill="#262626">reaction degree of cement</text>
<text x="55.09" y="340.50" font-family="Liberation Serif, serif" font-weight="bold" font-size="20.5" letter-spacing="0.000" fill="#000">c</text>
<rect x="177.6" y="396.6" width="108.70" height="82.60" fill="#fff" stroke="#767676" stroke-width="1"/>
<path d="M179.5 404.20H203.5" stroke="#0000ff" stroke-width="1" stroke-opacity="0.6"/>
<text x="205.15" y="407.90" font-size="10.3" fill="#262626">w/b 0.3-no slag</text>
<path d="M179.5 417.75H203.5" stroke="#ff0000" stroke-width="1" stroke-opacity="0.6"/>
<text x="205.15" y="421.45" font-size="10.3" fill="#262626">w/b 0.3-25% slag</text>
<path d="M179.5 431.30H203.5" stroke="#000000" stroke-width="1" stroke-opacity="0.6"/>
<text x="205.15" y="435.00" font-size="10.3" fill="#262626">w/b 0.3-50% slag</text>
<path d="M179.5 444.85H203.5" stroke="#0000ff" stroke-width="1" stroke-opacity="0.6" stroke-dasharray="5.9 3.7"/>
<text x="205.15" y="448.55" font-size="10.3" fill="#262626">w/b 0.5-no slag</text>
<path d="M179.5 458.40H203.5" stroke="#ff0000" stroke-width="1" stroke-opacity="0.6" stroke-dasharray="5.9 3.7"/>
<text x="205.15" y="462.10" font-size="10.3" fill="#262626">w/b 0.5-25% slag</text>
<path d="M179.5 471.95H203.5" stroke="#000000" stroke-width="1" stroke-opacity="0.6" stroke-dasharray="5.9 3.7"/>
<text x="205.15" y="475.65" font-size="10.3" fill="#262626">w/b 0.5-50% slag</text>
<text x="48.57" y="583.70" font-family="Liberation Serif, serif" font-size="17.15" letter-spacing="0.068" fill="#000">Effect of slag on reaction degree of</text>
<text x="123.20" y="609.60" font-family="Liberation Serif, serif" font-size="17.15" letter-spacing="0.075" fill="#000">cement.</text>
<path d="M396.5 516.1 396.6 515.4 396.7 514.8 396.7 514.0 396.8 513.2 396.9 512.5 397.0 511.6 397.1 510.6 397.2 509.3 397.3 508.6 397.4 507.8 397.5 507.0 397.6 506.0 397.7 505.0 397.9 504.0 398.0 502.8 398.2 501.6 398.4 500.3 398.6 498.9 398.8 497.4 399.1 495.9 400.2 490.5 401.2 486.2 402.3 482.7 403.4 479.7 404.4 477.2 405.5 475.0 406.5 473.2 407.6 471.5 408.7 470.0 409.7 468.6 410.8 467.4 411.8 466.3 412.9 465.2 414.0 464.3 415.0 463.4 416.1 462.6 417.1 461.8 418.2 461.0 419.3 460.4 420.3 459.7 421.4 459.1 422.4 458.5 423.5 457.9 424.6 457.4 425.6 456.9 426.7 456.4 427.7 455.9 428.8 455.5 429.9 455.1 430.9 454.6 432.0 454.2 433.0 453.8 434.1 453.5 435.2 453.1 436.2 452.8 437.3 452.4 438.3 452.1 439.4 451.8 440.5 451.4 441.5 451.1 442.6 450.8 443.6 450.6 444.7 450.3 445.8 450.0 446.8 449.7 447.9 449.5 448.9 449.2 450.0 449.0 451.1 448.7 452.1 448.5 453.2 448.3 454.2 448.0 455.3 447.8 456.4 447.6 457.4 447.4 458.5 447.2 459.5 446.9 460.6 446.7 461.7 446.5 462.7 446.4 463.8 446.2 464.8 446.0 465.9 445.8 467.0 445.6 468.0 445.4 469.1 445.2 470.1 445.1 471.2 444.9 472.3 444.7 473.3 444.6 474.4 444.4 475.4 444.2 476.5 444.1 477.6 443.9 478.6 443.8 479.7 443.6 480.8 443.5 481.8 443.3 482.9 443.2 483.9 443.0 485.0 442.9 486.1 442.7 487.1 442.6 488.2 442.5 489.2 442.3 490.3 442.2 491.4 442.1 492.4 441.9 493.5 441.8 494.5 441.7 495.6 441.5 496.7 441.4 497.7 441.3 498.8 441.2 499.8 441.1 500.9 440.9 502.0 440.8 503.0 440.7 504.1 440.6 505.1 440.5 506.2 440.4 507.3 440.3 508.3 440.1 509.4 440.0 510.4 439.9 511.5 439.8 512.6 439.7 513.6 439.6 514.7 439.5 515.7 439.4 516.8 439.3 517.9 439.2 518.9 439.1 520.0 439.0 521.0 438.9 522.1 438.8 523.2 438.7 524.2 438.6 525.3 438.5 526.3 438.4 527.4 438.3 528.5 438.2 529.5 438.1 530.6 438.0 531.6 438.0 532.7 437.9 533.8 437.8 534.8 437.7 535.9 437.6 536.9 437.5 538.0 437.4 539.1 437.3 540.1 437.3 541.2 437.2 542.2 437.1 543.3 437.0 544.4 436.9 545.4 436.8 546.5 436.8 547.5 436.7 548.6 436.6 549.7 436.5 550.7 436.4 551.8 436.4 552.8 436.3 553.9 436.2 555.0 436.1 556.0 436.1 557.1 436.0 558.2 435.9 559.2 435.8 560.3 435.8 561.3 435.7 562.4 435.6 563.5 435.5 564.5 435.5 565.6 435.4 566.6 435.3 567.7 435.2 568.8 435.2 569.8 435.1 570.9 435.0 571.9 435.0 573.0 434.9 574.1 434.8 575.1 434.8 576.2 434.7 577.2 434.6 578.3 434.6 579.4 434.5 580.4 434.4 581.5 434.4 582.5 434.3 583.6 434.2 584.7 434.2 585.7 434.1 586.8 434.1 587.8 434.0 588.9 433.9 590.0 433.9 591.0 433.8 592.1 433.7 593.1 433.7 594.2 433.6 595.3 433.6 596.3 433.5 597.4 433.4 598.4 433.4 599.5 433.3 600.6 433.3 601.6 433.2 602.7 433.1 603.7 433.1 604.8 433.0 605.9 433.0 606.9 432.9 608.0 432.9 609.0 432.8 610.1 432.7 611.2 432.7 612.2 432.6 613.3 432.6 614.3 432.5 615.4 432.5 616.5 432.4 617.5 432.4 618.6 432.3 619.6 432.3 620.7 432.2 621.8 432.1 622.8 432.1 623.9 432.0 624.9 432.0 626.0 431.9 627.1 431.9 628.1 431.8 629.2 431.8 630.2 431.7 631.3 431.7" fill="none" stroke="#ff0000" stroke-width="1.0" stroke-opacity="0.6"/>
<path d="M396.5 516.1 396.7 515.6 396.8 515.0 396.9 514.2 397.0 513.5 397.2 512.7 397.3 511.7 397.5 510.5 397.6 509.9 397.7 509.2 397.9 508.4 398.0 507.6 398.2 506.7 398.4 505.8 398.6 504.8 398.8 503.8 399.1 502.7 400.2 498.9 401.2 495.8 402.3 493.2 403.4 490.9 404.4 488.9 405.5 487.1 406.5 485.5 407.6 484.0 408.7 482.7 409.7 481.4 410.8 480.3 411.8 479.2 412.9 478.2 414.0 477.2 415.0 476.3 416.1 475.5 417.1 474.7 418.2 473.9 419.3 473.2 420.3 472.5 421.4 471.9 422.4 471.2 423.5 470.6 424.6 470.1 425.6 469.5 426.7 469.0 427.7 468.4 428.8 467.9 429.9 467.5 430.9 467.0 432.0 466.5 433.0 466.1 434.1 465.7 435.2 465.3 436.2 464.9 437.3 464.5 438.3 464.1 439.4 463.7 440.5 463.4 441.5 463.0 442.6 462.7 443.6 462.3 444.7 462.0 445.8 461.7 446.8 461.4 447.9 461.1 448.9 460.8 450.0 460.5 451.1 460.2 452.1 460.0 453.2 459.7 454.2 459.4 455.3 459.2 456.4 458.9 457.4 458.7 458.5 458.4 459.5 458.2 460.6 457.9 461.7 457.7 462.7 457.5 463.8 457.3 464.8 457.0 465.9 456.8 467.0 456.6 468.0 456.4 469.1 456.2 470.1 456.0 471.2 455.8 472.3 455.6 473.3 455.4 474.4 455.2 475.4 455.0 476.5 454.9 477.6 454.7 478.6 454.5 479.7 454.3 480.8 454.1 481.8 454.0 482.9 453.8 483.9 453.6 485.0 453.5 486.1 453.3 487.1 453.2 488.2 453.0 489.2 452.9 490.3 452.7 491.4 452.5 492.4 452.4 493.5 452.3 494.5 452.1 495.6 452.0 496.7 451.8 497.7 451.7 498.8 451.5 499.8 451.4 500.9 451.3 502.0 451.1 503.0 451.0 504.1 450.9 505.1 450.8 506.2 450.6 507.3 450.5 508.3 450.4 509.4 450.3 510.4 450.1 511.5 450.0 512.6 449.9 513.6 449.8 514.7 449.7 515.7 449.5 516.8 449.4 517.9 449.3 518.9 449.2 520.0 449.1 521.0 449.0 522.1 448.9 523.2 448.8 524.2 448.7 525.3 448.6 526.3 448.5 527.4 448.4 528.5 448.3 529.5 448.2 530.6 448.1 531.6 448.0 532.7 447.9 533.8 447.8 534.8 447.7 535.9 447.6 536.9 447.5 538.0 447.4 539.1 447.3 540.1 447.2 541.2 447.1 542.2 447.0 543.3 446.9 544.4 446.8 545.4 446.7 546.5 446.7 547.5 446.6 548.6 446.5 549.7 446.4 550.7 446.3 551.8 446.2 552.8 446.1 553.9 446.1 555.0 446.0 556.0 445.9 557.1 445.8 558.2 445.7 559.2 445.7 560.3 445.6 561.3 445.5 562.4 445.4 563.5 445.3 564.5 445.3 565.6 445.2 566.6 445.1 567.7 445.0 568.8 445.0 569.8 444.9 570.9 444.8 571.9 444.7 573.0 444.7 574.1 444.6 575.1 444.5 576.2 444.5 577.2 444.4 578.3 444.3 579.4 444.2 580.4 444.2 581.5 444.1 582.5 444.0 583.6 444.0 584.7 443.9 585.7 443.8 586.8 443.8 587.8 443.7 588.9 443.6 590.0 443.6 591.0 443.5 592.1 443.5 593.1 443.4 594.2 443.3 595.3 443.3 596.3 443.2 597.4 443.1 598.4 443.1 599.5 443.0 600.6 443.0 601.6 442.9 602.7 442.8 603.7 442.8 604.8 442.7 605.9 442.7 606.9 442.6 608.0 442.5 609.0 442.5 610.1 442.4 611.2 442.4 612.2 442.3 613.3 442.3 614.3 442.2 615.4 442.1 616.5 442.1 617.5 442.0 618.6 442.0 619.6 441.9 620.7 441.9 621.8 441.8 622.8 441.8 623.9 441.7 624.9 441.7 626.0 441.6 627.1 441.6 628.1 441.5 629.2 441.4 630.2 441.4 631.3 441.3" fill="none" stroke="#000000" stroke-width="1.0" stroke-opacity="0.6"/>
<path d="M396.5 516.1 396.6 515.4 396.6 514.7 396.7 513.9 396.8 513.1 396.8 512.3 396.9 511.4 397.0 510.3 397.0 509.6 397.1 508.9 397.2 508.1 397.2 507.2 397.3 506.3 397.4 505.2 397.5 504.1 397.6 502.8 397.7 501.5 397.9 500.1 398.0 498.5 398.2 496.9 398.4 495.2 398.6 493.4 398.8 491.4 399.1 489.5 400.2 482.5 401.2 477.1 402.3 472.6 403.4 468.9 404.4 465.6 405.5 462.8 406.5 460.3 407.6 458.1 408.7 456.1 409.7 454.2 410.8 452.5 411.8 450.9 412.9 449.5 414.0 448.1 415.0 446.8 416.1 445.6 417.1 444.4 418.2 443.4 419.3 442.3 420.3 441.3 421.4 440.4 422.4 439.5 423.5 438.6 424.6 437.8 425.6 437.0 426.7 436.2 427.7 435.4 428.8 434.7 429.9 434.0 430.9 433.3 432.0 432.7 433.0 432.1 434.1 431.4 435.2 430.8 436.2 430.2 437.3 429.7 438.3 429.1 439.4 428.6 440.5 428.1 441.5 427.5 442.6 427.0 443.6 426.5 444.7 426.1 445.8 425.6 446.8 425.1 447.9 424.7 448.9 424.2 450.0 423.8 451.1 423.4 452.1 423.0 453.2 422.6 454.2 422.2 455.3 421.8 456.4 421.4 457.4 421.0 458.5 420.6 459.5 420.3 460.6 419.9 461.7 419.6 462.7 419.2 463.8 418.9 464.8 418.5 465.9 418.2 467.0 417.9 468.0 417.5 469.1 417.2 470.1 416.9 471.2 416.6 472.3 416.3 473.3 416.0 474.4 415.7 475.4 415.4 476.5 415.1 477.6 414.8 478.6 414.6 479.7 414.3 480.8 414.0 481.8 413.7 482.9 413.5 483.9 413.2 485.0 412.9 486.1 412.7 487.1 412.4 488.2 412.2 489.2 411.9 490.3 411.7 491.4 411.4 492.4 411.2 493.5 411.0 494.5 410.7 495.6 410.5 496.7 410.3 497.7 410.0 498.8 409.8 499.8 409.6 500.9 409.4 502.0 409.1 503.0 408.9 504.1 408.7 505.1 408.5 506.2 408.3 507.3 408.1 508.3 407.9 509.4 407.7 510.4 407.5 511.5 407.3 512.6 407.1 513.6 406.9 514.7 406.7 515.7 406.5 516.8 406.3 517.9 406.1 518.9 405.9 520.0 405.7 521.0 405.6 522.1 405.4 523.2 405.2 524.2 405.0 525.3 404.8 526.3 404.6 527.4 404.5 528.5 404.3 529.5 404.1 530.6 404.0 531.6 403.8 532.7 403.6 533.8 403.4 534.8 403.3 535.9 403.1 536.9 402.9 538.0 402.8 539.1 402.6 540.1 402.5 541.2 402.3 542.2 402.1 543.3 402.0 544.4 401.8 545.4 401.7 546.5 401.5 547.5 401.4 548.6 401.2 549.7 401.1 550.7 400.9 551.8 400.8 552.8 400.6 553.9 400.5 555.0 400.3 556.0 400.2 557.1 400.0 558.2 399.9 559.2 399.8 560.3 399.6 561.3 399.5 562.4 399.3 563.5 399.2 564.5 399.1 565.6 398.9 566.6 398.8 567.7 398.7 568.8 398.5 569.8 398.4 570.9 398.3 571.9 398.1 573.0 398.0 574.1 397.9 575.1 397.7 576.2 397.6 577.2 397.5 578.3 397.4 579.4 397.2 580.4 397.1 581.5 397.0 582.5 396.9 583.6 396.7 584.7 396.6 585.7 396.5 586.8 396.4 587.8 396.2 588.9 396.1 590.0 396.0 591.0 395.9 592.1 395.8 593.1 395.7 594.2 395.5 595.3 395.4 596.3 395.3 597.4 395.2 598.4 395.1 599.5 395.0 600.6 394.9 601.6 394.7 602.7 394.6 603.7 394.5 604.8 394.4 605.9 394.3 606.9 394.2 608.0 394.1 609.0 394.0 610.1 393.9 611.2 393.8 612.2 393.6 613.3 393.5 614.3 393.4 615.4 393.3 616.5 393.2 617.5 393.1 618.6 393.0 619.6 392.9 620.7 392.8 621.8 392.7 622.8 392.6 623.9 392.5 624.9 392.4 626.0 392.3 627.1 392.2 628.1 392.1 629.2 392.0 630.2 391.9 631.3 391.8" fill="none" stroke="#ff0000" stroke-width="1.0" stroke-opacity="0.6" stroke-dasharray="5.9 3.7"/>
<path d="M396.5 516.1 396.6 515.4 396.7 514.6 396.8 513.8 396.8 513.2 396.9 512.4 397.0 511.4 397.1 510.3 397.2 509.0 397.3 508.3 397.4 507.6 397.5 506.7 397.6 505.9 397.7 504.9 397.9 504.0 398.0 503.0 398.2 501.9 398.4 500.8 398.6 499.6 398.8 498.3 399.1 497.1 400.2 492.6 401.2 488.9 402.3 485.8 403.4 483.0 404.4 480.6 405.5 478.5 406.5 476.5 407.6 474.7 408.7 473.1 409.7 471.6 410.8 470.1 411.8 468.8 412.9 467.5 414.0 466.3 415.0 465.2 416.1 464.2 417.1 463.1 418.2 462.2 419.3 461.2 420.3 460.4 421.4 459.5 422.4 458.7 423.5 457.9 424.6 457.1 425.6 456.4 426.7 455.7 427.7 455.0 428.8 454.4 429.9 453.7 430.9 453.1 432.0 452.5 433.0 451.9 434.1 451.3 435.2 450.8 436.2 450.2 437.3 449.7 438.3 449.2 439.4 448.7 440.5 448.2 441.5 447.7 442.6 447.3 443.6 446.8 444.7 446.4 445.8 445.9 446.8 445.5 447.9 445.1 448.9 444.7 450.0 444.3 451.1 443.9 452.1 443.5 453.2 443.1 454.2 442.8 455.3 442.4 456.4 442.0 457.4 441.7 458.5 441.3 459.5 441.0 460.6 440.7 461.7 440.3 462.7 440.0 463.8 439.7 464.8 439.4 465.9 439.1 467.0 438.8 468.0 438.5 469.1 438.2 470.1 437.9 471.2 437.6 472.3 437.3 473.3 437.1 474.4 436.8 475.4 436.5 476.5 436.3 477.6 436.0 478.6 435.7 479.7 435.5 480.8 435.2 481.8 435.0 482.9 434.7 483.9 434.5 485.0 434.3 486.1 434.0 487.1 433.8 488.2 433.6 489.2 433.3 490.3 433.1 491.4 432.9 492.4 432.7 493.5 432.4 494.5 432.2 495.6 432.0 496.7 431.8 497.7 431.6 498.8 431.4 499.8 431.2 500.9 431.0 502.0 430.8 503.0 430.6 504.1 430.4 505.1 430.2 506.2 430.0 507.3 429.8 508.3 429.6 509.4 429.5 510.4 429.3 511.5 429.1 512.6 428.9 513.6 428.7 514.7 428.6 515.7 428.4 516.8 428.2 517.9 428.0 518.9 427.9 520.0 427.7 521.0 427.5 522.1 427.4 523.2 427.2 524.2 427.1 525.3 426.9 526.3 426.7 527.4 426.6 528.5 426.4 529.5 426.3 530.6 426.1 531.6 426.0 532.7 425.8 533.8 425.7 534.8 425.5 535.9 425.4 536.9 425.2 538.0 425.1 539.1 424.9 540.1 424.8 541.2 424.6 542.2 424.5 543.3 424.4 544.4 424.2 545.4 424.1 546.5 424.0 547.5 423.8 548.6 423.7 549.7 423.6 550.7 423.4 551.8 423.3 552.8 423.2 553.9 423.0 555.0 422.9 556.0 422.8 557.1 422.6 558.2 422.5 559.2 422.4 560.3 422.3 561.3 422.1 562.4 422.0 563.5 421.9 564.5 421.8 565.6 421.7 566.6 421.5 567.7 421.4 568.8 421.3 569.8 421.2 570.9 421.1 571.9 421.0 573.0 420.8 574.1 420.7 575.1 420.6 576.2 420.5 577.2 420.4 578.3 420.3 579.4 420.2 580.4 420.1 581.5 420.0 582.5 419.9 583.6 419.7 584.7 419.6 585.7 419.5 586.8 419.4 587.8 419.3 588.9 419.2 590.0 419.1 591.0 419.0 592.1 418.9 593.1 418.8 594.2 418.7 595.3 418.6 596.3 418.5 597.4 418.4 598.4 418.3 599.5 418.2 600.6 418.1 601.6 418.0 602.7 417.9 603.7 417.8 604.8 417.7 605.9 417.6 606.9 417.5 608.0 417.4 609.0 417.4 610.1 417.3 611.2 417.2 612.2 417.1 613.3 417.0 614.3 416.9 615.4 416.8 616.5 416.7 617.5 416.6 618.6 416.5 619.6 416.4 620.7 416.4 621.8 416.3 622.8 416.2 623.9 416.1 624.9 416.0 626.0 415.9 627.1 415.8 628.1 415.8 629.2 415.7 630.2 415.6 631.3 415.5" fill="none" stroke="#000000" stroke-width="1.0" stroke-opacity="0.6" stroke-dasharray="5.9 3.7"/>
<rect x="396.5" y="318.5" width="260.90" height="197.60" fill="none" stroke="#767676" stroke-width="1"/>
<path d="M448.68 516.1v-2.6M448.68 318.5v2.6M500.86 516.1v-2.6M500.86 318.5v2.6M553.04 516.1v-2.6M553.04 318.5v2.6M605.22 516.1v-2.6M605.22 318.5v2.6M396.5 476.58h2.6M657.4 476.58h-2.6M396.5 437.06h2.6M657.4 437.06h-2.6M396.5 397.54h2.6M657.4 397.54h-2.6M396.5 358.02h2.6M657.4 358.02h-2.6" stroke="#8c8c8c" stroke-width="1" fill="none"/>
<text x="393.47" y="531.90" font-size="10.9" fill="#262626">0</text>
<text x="442.62" y="531.90" font-size="10.9" fill="#262626">20</text>
<text x="494.80" y="531.90" font-size="10.9" fill="#262626">40</text>
<text x="546.98" y="531.90" font-size="10.9" fill="#262626">60</text>
<text x="599.16" y="531.90" font-size="10.9" fill="#262626">80</text>
<path transform="translate(648.31 531.90) scale(0.00532 -0.00532)" d="M763 0L583 0L583 1147Q518 1085 412 1023Q306 961 222 930L222 1104Q373 1175 486 1276Q599 1377 646 1466L763 1466Z" fill="#262626"/>
<text x="654.37" y="531.90" font-size="10.9" fill="#262626">0</text>
<text x="660.43" y="531.90" font-size="10.9" fill="#262626">0</text>
<text x="386.14" y="520.35" font-size="10.9" fill="#262626">0</text>
<text x="377.05" y="480.83" font-size="10.9" fill="#262626">0.2</text>
<text x="377.05" y="441.31" font-size="10.9" fill="#262626">0.4</text>
<text x="377.05" y="401.79" font-size="10.9" fill="#262626">0.6</text>
<text x="377.05" y="362.27" font-size="10.9" fill="#262626">0.8</text>
<path transform="translate(386.14 322.75) scale(0.00532 -0.00532)" d="M763 0L583 0L583 1147Q518 1085 412 1023Q306 961 222 930L222 1104Q373 1175 486 1276Q599 1377 646 1466L763 1466Z" fill="#262626"/>
<text x="497.41" y="549.30" font-family="Liberation Sans, sans-serif" font-size="12.6" letter-spacing="0.056" fill="#262626">time(days)</text>
<text transform="translate(371.30 480.60) rotate(-90)" x="-0.82" y="0" font-family="Liberation Sans, sans-serif" font-size="12.6" letter-spacing="0.006" fill="#262626">reaction degree of slag</text>
<text x="410.68" y="340.60" font-family="Liberation Serif, serif" font-weight="bold" font-size="20.5" letter-spacing="0.000" fill="#000">d</text>
<rect x="540.4" y="326.8" width="109.70" height="55.60" fill="#fff" stroke="#767676" stroke-width="1"/>
<path d="M542.9 334.00H566.6" stroke="#ff0000" stroke-width="1" stroke-opacity="0.6"/>
<text x="568.95" y="337.70" font-size="10.3" fill="#262626">w/b 0.3-25% slag</text>
<path d="M542.9 347.73H566.6" stroke="#000000" stroke-width="1" stroke-opacity="0.6"/>
<text x="568.95" y="351.43" font-size="10.3" fill="#262626">w/b 0.3-50% slag</text>
<path d="M542.9 361.46H566.6" stroke="#ff0000" stroke-width="1" stroke-opacity="0.6" stroke-dasharray="5.9 3.7"/>
<text x="568.95" y="365.16" font-size="10.3" fill="#262626">w/b 0.5-25% slag</text>
<path d="M542.9 375.19H566.6" stroke="#000000" stroke-width="1" stroke-opacity="0.6" stroke-dasharray="5.9 3.7"/>
<text x="568.95" y="378.89" font-size="10.3" fill="#262626">w/b 0.5-50% slag</text>
<text x="402.27" y="583.60" font-family="Liberation Serif, serif" font-size="17.15" letter-spacing="0.073" fill="#000">Parameter analysis of reaction degree of</text>
<text x="505.11" y="609.60" font-family="Liberation Serif, serif" font-size="17.15" letter-spacing="0.150" fill="#000">slag.</text>
<path d="M43.5 839.3 43.5 838.6 43.5 837.8 43.6 836.9 43.6 836.0 43.6 835.2 43.6 834.1 43.7 832.9 43.7 832.2 43.7 831.4 43.7 830.5 43.7 829.5 43.8 828.4 43.8 827.2 43.8 825.9 43.9 824.5 43.9 823.0 43.9 821.3 44.0 819.5 44.0 817.5 44.1 815.4 44.2 813.2 44.2 810.8 44.3 808.2 44.4 805.5 44.5 802.6 44.6 799.7 44.8 796.5 44.9 793.3 45.0 790.0 45.2 786.6 45.4 783.2 45.6 779.7 45.9 776.1 46.1 772.6 47.2 761.3 48.2 753.4 49.3 747.4 50.4 742.7 51.4 738.9 52.5 735.8 53.6 733.1 54.6 730.8 55.7 728.8 56.8 727.0 57.8 725.4 58.9 724.0 60.0 722.7 61.0 721.5 62.1 720.4 63.1 719.4 64.2 718.4 65.3 717.5 66.3 716.7 67.4 716.0 68.5 715.2 69.5 714.5 70.6 713.9 71.7 713.3 72.7 712.7 73.8 712.1 74.9 711.6 75.9 711.0 77.0 710.6 78.0 710.1 79.1 709.6 80.2 709.2 81.2 708.8 82.3 708.3 83.4 708.0 84.4 707.6 85.5 707.2 86.6 706.8 87.6 706.5 88.7 706.2 89.8 705.8 90.8 705.5 91.9 705.2 93.0 704.9 94.0 704.6 95.1 704.3 96.1 704.0 97.2 703.8 98.3 703.5 99.3 703.2 100.4 703.0 101.5 702.7 102.5 702.5 103.6 702.2 104.7 702.0 105.7 701.8 106.8 701.5 107.9 701.3 108.9 701.1 110.0 700.9 111.0 700.7 112.1 700.5 113.2 700.3 114.2 700.1 115.3 699.9 116.4 699.7 117.4 699.5 118.5 699.3 119.6 699.1 120.6 699.0 121.7 698.8 122.8 698.6 123.8 698.4 124.9 698.3 125.9 698.1 127.0 698.0 128.1 697.8 129.1 697.6 130.2 697.5 131.3 697.3 132.3 697.2 133.4 697.0 134.5 696.9 135.5 696.7 136.6 696.6 137.7 696.4 138.7 696.3 139.8 696.2 140.8 696.0 141.9 695.9 143.0 695.8 144.0 695.6 145.1 695.5 146.2 695.4 147.2 695.2 148.3 695.1 149.4 695.0 150.4 694.9 151.5 694.7 152.6 694.6 153.6 694.5 154.7 694.4 155.7 694.3 156.8 694.1 157.9 694.0 158.9 693.9 160.0 693.8 161.1 693.7 162.1 693.6 163.2 693.5 164.3 693.4 165.3 693.3 166.4 693.2 167.5 693.1 168.5 692.9 169.6 692.8 170.6 692.7 171.7 692.6 172.8 692.5 173.8 692.4 174.9 692.3 176.0 692.2 177.0 692.2 178.1 692.1 179.2 692.0 180.2 691.9 181.3 691.8 182.4 691.7 183.4 691.6 184.5 691.5 185.5 691.4 186.6 691.3 187.7 691.2 188.7 691.1 189.8 691.1 190.9 691.0 191.9 690.9 193.0 690.8 194.1 690.7 195.1 690.6 196.2 690.5 197.3 690.5 198.3 690.4 199.4 690.3 200.4 690.2 201.5 690.1 202.6 690.1 203.6 690.0 204.7 689.9 205.8 689.8 206.8 689.7 207.9 689.7 209.0 689.6 210.0 689.5 211.1 689.4 212.2 689.4 213.2 689.3 214.3 689.2 215.3 689.1 216.4 689.1 217.5 689.0 218.5 688.9 219.6 688.9 220.7 688.8 221.7 688.7 222.8 688.6 223.9 688.6 224.9 688.5 226.0 688.4 227.1 688.4 228.1 688.3 229.2 688.2 230.3 688.2 231.3 688.1 232.4 688.0 233.4 688.0 234.5 687.9 235.6 687.8 236.6 687.8 237.7 687.7 238.8 687.6 239.8 687.6 240.9 687.5 242.0 687.4 243.0 687.4 244.1 687.3 245.2 687.3 246.2 687.2 247.3 687.1 248.3 687.1 249.4 687.0 250.5 687.0 251.5 686.9 252.6 686.8 253.7 686.8 254.7 686.7 255.8 686.7 256.9 686.6 257.9 686.5 259.0 686.5 260.1 686.4 261.1 686.4 262.2 686.3 263.2 686.3 264.3 686.2 265.4 686.1 266.4 686.1 267.5 686.0 268.6 686.0 269.6 685.9 270.7 685.9 271.8 685.8 272.8 685.8 273.9 685.7 275.0 685.7 276.0 685.6 277.1 685.5 278.1 685.5 279.2 685.4" fill="none" stroke="#0000ff" stroke-width="1.0" stroke-opacity="0.72"/>
<path d="M43.5 839.3 43.5 838.6 43.5 837.9 43.5 837.1 43.5 836.2 43.5 835.4 43.6 834.7 43.6 833.8 43.6 832.8 43.6 831.7 43.6 830.4 43.6 829.6 43.7 828.8 43.7 828.0 43.7 827.1 43.7 826.1 43.7 825.0 43.8 823.9 43.8 822.7 43.8 821.4 43.9 820.0 43.9 818.6 43.9 817.0 44.0 815.4 44.0 813.6 44.1 811.8 44.2 809.9 44.2 807.9 44.3 805.7 44.4 803.5 44.5 801.2 44.6 798.8 44.8 796.3 44.9 793.7 45.0 791.1 45.2 788.4 45.4 785.6 45.6 782.7 45.9 779.8 46.1 776.9 47.2 767.1 48.2 759.8 49.3 754.0 50.4 749.3 51.4 745.3 52.5 741.9 53.6 739.0 54.6 736.4 55.7 734.0 56.8 731.9 57.8 730.1 58.9 728.3 60.0 726.7 61.0 725.3 62.1 723.9 63.1 722.7 64.2 721.5 65.3 720.4 66.3 719.3 67.4 718.4 68.5 717.4 69.5 716.6 70.6 715.7 71.7 714.9 72.7 714.2 73.8 713.4 74.9 712.8 75.9 712.1 77.0 711.5 78.0 710.8 79.1 710.3 80.2 709.7 81.2 709.2 82.3 708.6 83.4 708.1 84.4 707.6 85.5 707.2 86.6 706.7 87.6 706.2 88.7 705.8 89.8 705.4 90.8 705.0 91.9 704.6 93.0 704.2 94.0 703.8 95.1 703.5 96.1 703.1 97.2 702.8 98.3 702.4 99.3 702.1 100.4 701.8 101.5 701.4 102.5 701.1 103.6 700.8 104.7 700.5 105.7 700.3 106.8 700.0 107.9 699.7 108.9 699.4 110.0 699.2 111.0 698.9 112.1 698.6 113.2 698.4 114.2 698.1 115.3 697.9 116.4 697.7 117.4 697.4 118.5 697.2 119.6 697.0 120.6 696.7 121.7 696.5 122.8 696.3 123.8 696.1 124.9 695.9 125.9 695.7 127.0 695.5 128.1 695.3 129.1 695.1 130.2 694.9 131.3 694.7 132.3 694.5 133.4 694.3 134.5 694.2 135.5 694.0 136.6 693.8 137.7 693.6 138.7 693.5 139.8 693.3 140.8 693.1 141.9 693.0 143.0 692.8 144.0 692.6 145.1 692.5 146.2 692.3 147.2 692.2 148.3 692.0 149.4 691.9 150.4 691.7 151.5 691.6 152.6 691.4 153.6 691.3 154.7 691.1 155.7 691.0 156.8 690.9 157.9 690.7 158.9 690.6 160.0 690.5 161.1 690.3 162.1 690.2 163.2 690.1 164.3 689.9 165.3 689.8 166.4 689.7 167.5 689.6 168.5 689.4 169.6 689.3 170.6 689.2 171.7 689.1 172.8 688.9 173.8 688.8 174.9 688.7 176.0 688.6 177.0 688.5 178.1 688.4 179.2 688.3 180.2 688.1 181.3 688.0 182.4 687.9 183.4 687.8 184.5 687.7 185.5 687.6 186.6 687.5 187.7 687.4 188.7 687.3 189.8 687.2 190.9 687.1 191.9 687.0 193.0 686.9 194.1 686.8 195.1 686.7 196.2 686.6 197.3 686.5 198.3 686.4 199.4 686.3 200.4 686.2 201.5 686.1 202.6 686.0 203.6 685.9 204.7 685.8 205.8 685.7 206.8 685.7 207.9 685.6 209.0 685.5 210.0 685.4 211.1 685.3 212.2 685.2 213.2 685.1 214.3 685.0 215.3 685.0 216.4 684.9 217.5 684.8 218.5 684.7 219.6 684.6 220.7 684.5 221.7 684.5 222.8 684.4 223.9 684.3 224.9 684.2 226.0 684.1 227.1 684.1 228.1 684.0 229.2 683.9 230.3 683.8 231.3 683.7 232.4 683.7 233.4 683.6 234.5 683.5 235.6 683.4 236.6 683.4 237.7 683.3 238.8 683.2 239.8 683.1 240.9 683.1 242.0 683.0 243.0 682.9 244.1 682.9 245.2 682.8 246.2 682.7 247.3 682.7 248.3 682.6 249.4 682.5 250.5 682.4 251.5 682.4 252.6 682.3 253.7 682.2 254.7 682.2 255.8 682.1 256.9 682.0 257.9 682.0 259.0 681.9 260.1 681.8 261.1 681.8 262.2 681.7 263.2 681.7 264.3 681.6 265.4 681.5 266.4 681.5 267.5 681.4 268.6 681.3 269.6 681.3 270.7 681.2 271.8 681.1 272.8 681.1 273.9 681.0 275.0 681.0 276.0 680.9 277.1 680.8 278.1 680.8 279.2 680.7" fill="none" stroke="#ff0000" stroke-width="1.0" stroke-opacity="0.72"/>
<path d="M43.5 839.3 43.6 838.5 43.6 837.5 43.6 836.8 43.7 835.8 43.7 834.6 43.7 833.8 43.8 833.0 43.8 832.1 43.8 831.2 43.9 830.1 43.9 828.9 43.9 827.7 44.0 826.4 44.0 824.9 44.1 823.4 44.2 821.8 44.2 820.1 44.3 818.3 44.4 816.4 44.5 814.4 44.6 812.3 44.8 810.1 44.9 807.9 45.0 805.6 45.2 803.2 45.4 800.7 45.6 798.2 45.9 795.7 46.1 793.0 47.2 784.2 48.2 777.5 49.3 772.0 50.4 767.4 51.4 763.5 52.5 760.0 53.6 757.0 54.6 754.3 55.7 751.8 56.8 749.6 57.8 747.5 58.9 745.6 60.0 743.9 61.0 742.2 62.1 740.7 63.1 739.3 64.2 737.9 65.3 736.6 66.3 735.4 67.4 734.3 68.5 733.2 69.5 732.1 70.6 731.1 71.7 730.2 72.7 729.3 73.8 728.4 74.9 727.6 75.9 726.8 77.0 726.0 78.0 725.3 79.1 724.5 80.2 723.8 81.2 723.2 82.3 722.5 83.4 721.9 84.4 721.3 85.5 720.7 86.6 720.1 87.6 719.6 88.7 719.0 89.8 718.5 90.8 718.0 91.9 717.5 93.0 717.0 94.0 716.5 95.1 716.1 96.1 715.6 97.2 715.2 98.3 714.7 99.3 714.3 100.4 713.9 101.5 713.5 102.5 713.1 103.6 712.7 104.7 712.4 105.7 712.0 106.8 711.6 107.9 711.3 108.9 710.9 110.0 710.6 111.0 710.2 112.1 709.9 113.2 709.6 114.2 709.3 115.3 709.0 116.4 708.7 117.4 708.4 118.5 708.1 119.6 707.8 120.6 707.5 121.7 707.2 122.8 706.9 123.8 706.7 124.9 706.4 125.9 706.2 127.0 705.9 128.1 705.6 129.1 705.4 130.2 705.1 131.3 704.9 132.3 704.7 133.4 704.4 134.5 704.2 135.5 704.0 136.6 703.7 137.7 703.5 138.7 703.3 139.8 703.1 140.8 702.9 141.9 702.7 143.0 702.5 144.0 702.3 145.1 702.1 146.2 701.9 147.2 701.7 148.3 701.5 149.4 701.3 150.4 701.1 151.5 700.9 152.6 700.7 153.6 700.5 154.7 700.3 155.7 700.2 156.8 700.0 157.9 699.8 158.9 699.6 160.0 699.5 161.1 699.3 162.1 699.1 163.2 699.0 164.3 698.8 165.3 698.6 166.4 698.5 167.5 698.3 168.5 698.2 169.6 698.0 170.6 697.9 171.7 697.7 172.8 697.6 173.8 697.4 174.9 697.3 176.0 697.1 177.0 697.0 178.1 696.8 179.2 696.7 180.2 696.6 181.3 696.4 182.4 696.3 183.4 696.1 184.5 696.0 185.5 695.9 186.6 695.7 187.7 695.6 188.7 695.5 189.8 695.4 190.9 695.2 191.9 695.1 193.0 695.0 194.1 694.9 195.1 694.7 196.2 694.6 197.3 694.5 198.3 694.4 199.4 694.3 200.4 694.1 201.5 694.0 202.6 693.9 203.6 693.8 204.7 693.7 205.8 693.6 206.8 693.5 207.9 693.3 209.0 693.2 210.0 693.1 211.1 693.0 212.2 692.9 213.2 692.8 214.3 692.7 215.3 692.6 216.4 692.5 217.5 692.4 218.5 692.3 219.6 692.2 220.7 692.1 221.7 692.0 222.8 691.9 223.9 691.8 224.9 691.7 226.0 691.6 227.1 691.5 228.1 691.4 229.2 691.3 230.3 691.2 231.3 691.1 232.4 691.0 233.4 690.9 234.5 690.8 235.6 690.7 236.6 690.7 237.7 690.6 238.8 690.5 239.8 690.4 240.9 690.3 242.0 690.2 243.0 690.1 244.1 690.0 245.2 690.0 246.2 689.9 247.3 689.8 248.3 689.7 249.4 689.6 250.5 689.5 251.5 689.5 252.6 689.4 253.7 689.3 254.7 689.2 255.8 689.1 256.9 689.0 257.9 689.0 259.0 688.9 260.1 688.8 261.1 688.7 262.2 688.7 263.2 688.6 264.3 688.5 265.4 688.4 266.4 688.4 267.5 688.3 268.6 688.2 269.6 688.1 270.7 688.1 271.8 688.0 272.8 687.9 273.9 687.8 275.0 687.8 276.0 687.7 277.1 687.6 278.1 687.6 279.2 687.5" fill="none" stroke="#000000" stroke-width="1.0" stroke-opacity="0.72"/>
<rect x="43.5" y="641.3" width="261.90" height="198.00" fill="none" stroke="#767676" stroke-width="1"/>
<path d="M95.88 839.3v-2.6M95.88 641.3v2.6M148.26 839.3v-2.6M148.26 641.3v2.6M200.64 839.3v-2.6M200.64 641.3v2.6M253.02 839.3v-2.6M253.02 641.3v2.6M43.5 799.70h2.6M305.4 799.70h-2.6M43.5 760.10h2.6M305.4 760.10h-2.6M43.5 720.50h2.6M305.4 720.50h-2.6M43.5 680.90h2.6M305.4 680.90h-2.6" stroke="#8c8c8c" stroke-width="1" fill="none"/>
<text x="40.47" y="855.10" font-size="10.9" fill="#262626">0</text>
<text x="89.82" y="855.10" font-size="10.9" fill="#262626">20</text>
<text x="142.20" y="855.10" font-size="10.9" fill="#262626">40</text>
<text x="194.58" y="855.10" font-size="10.9" fill="#262626">60</text>
<text x="246.96" y="855.10" font-size="10.9" fill="#262626">80</text>
<path transform="translate(296.31 855.10) scale(0.00532 -0.00532)" d="M763 0L583 0L583 1147Q518 1085 412 1023Q306 961 222 930L222 1104Q373 1175 486 1276Q599 1377 646 1466L763 1466Z" fill="#262626"/>
<text x="302.37" y="855.10" font-size="10.9" fill="#262626">0</text>
<text x="308.43" y="855.10" font-size="10.9" fill="#262626">0</text>
<text x="33.14" y="843.55" font-size="10.9" fill="#262626">0</text>
<text x="27.08" y="803.95" font-size="10.9" fill="#262626">20</text>
<text x="27.08" y="764.35" font-size="10.9" fill="#262626">40</text>
<text x="27.08" y="724.75" font-size="10.9" fill="#262626">60</text>
<text x="27.08" y="685.15" font-size="10.9" fill="#262626">80</text>
<path transform="translate(21.01 645.55) scale(0.00532 -0.00532)" d="M763 0L583 0L583 1147Q518 1085 412 1023Q306 961 222 930L222 1104Q373 1175 486 1276Q599 1377 646 1466L763 1466Z" fill="#262626"/>
<text x="27.08" y="645.55" font-size="10.9" fill="#262626">0</text>
<text x="33.14" y="645.55" font-size="10.9" fill="#262626">0</text>
<text x="144.81" y="872.30" font-family="Liberation Sans, sans-serif" font-size="12.6" letter-spacing="0.056" fill="#262626">time(days)</text>
<text transform="translate(15.40 817.60) rotate(-90)" x="-0.50" y="0" font-family="Liberation Sans, sans-serif" font-size="12.6" letter-spacing="0.103" fill="#262626">compressive strength(MPa)</text>
<text x="55.18" y="663.80" font-family="Liberation Serif, serif" font-weight="bold" font-size="20.5" letter-spacing="0.000" fill="#000">e</text>
<rect x="108.5" y="717.6" width="110.10" height="42.10" fill="#fff" stroke="#767676" stroke-width="1"/>
<path d="M111.4 725.20H135.3" stroke="#0000ff" stroke-width="1" stroke-opacity="0.6"/>
<text x="137.05" y="728.90" font-size="10.3" fill="#262626">w/b 0.3-no slag</text>
<path d="M111.4 738.95H135.3" stroke="#ff0000" stroke-width="1" stroke-opacity="0.6"/>
<text x="137.05" y="742.65" font-size="10.3" fill="#262626">w/b 0.3-25% slag</text>
<path d="M111.4 752.70H135.3" stroke="#000000" stroke-width="1" stroke-opacity="0.6"/>
<text x="137.05" y="756.40" font-size="10.3" fill="#262626">w/b 0.3-50% slag</text>
<text x="26.97" y="901.00" font-family="Liberation Serif, serif" font-size="17.15" letter-spacing="-0.003" fill="#000">Effect of slag on strength of concrete with</text>
<text x="33.20" y="934.50" font-family="Liberation Serif, serif" font-size="17.15" letter-spacing="0.030" fill="#000">a low water-to-binder ratio (w/b = 0.3).</text>
<path d="M396.4 839.3 396.5 838.6 396.5 837.8 396.6 837.1 396.7 836.2 396.7 835.3 396.8 834.2 396.9 832.8 396.9 832.0 397.0 831.1 397.1 830.1 397.1 829.0 397.2 827.8 397.3 826.4 397.4 824.9 397.5 823.3 397.7 821.5 397.8 819.6 397.9 817.6 398.1 815.4 398.3 813.1 398.5 810.6 398.8 808.1 399.0 805.4 400.1 796.3 401.1 789.4 402.2 784.1 403.3 779.8 404.3 776.3 405.4 773.4 406.5 770.9 407.5 768.8 408.6 767.0 409.7 765.3 410.7 763.9 411.8 762.6 412.9 761.5 413.9 760.4 415.0 759.5 416.0 758.6 417.1 757.7 418.2 757.0 419.2 756.3 420.3 755.6 421.4 755.0 422.4 754.4 423.5 753.9 424.6 753.3 425.6 752.9 426.7 752.4 427.8 751.9 428.8 751.5 429.9 751.1 430.9 750.7 432.0 750.3 433.1 750.0 434.1 749.6 435.2 749.3 436.3 749.0 437.3 748.7 438.4 748.4 439.5 748.1 440.5 747.8 441.6 747.5 442.7 747.2 443.7 747.0 444.8 746.7 445.9 746.5 446.9 746.3 448.0 746.0 449.0 745.8 450.1 745.6 451.2 745.4 452.2 745.2 453.3 745.0 454.4 744.8 455.4 744.6 456.5 744.4 457.6 744.2 458.6 744.0 459.7 743.8 460.8 743.7 461.8 743.5 462.9 743.3 463.9 743.1 465.0 743.0 466.1 742.8 467.1 742.7 468.2 742.5 469.3 742.4 470.3 742.2 471.4 742.1 472.5 741.9 473.5 741.8 474.6 741.6 475.7 741.5 476.7 741.4 477.8 741.2 478.8 741.1 479.9 741.0 481.0 740.9 482.0 740.7 483.1 740.6 484.2 740.5 485.2 740.4 486.3 740.3 487.4 740.1 488.4 740.0 489.5 739.9 490.6 739.8 491.6 739.7 492.7 739.6 493.7 739.5 494.8 739.4 495.9 739.3 496.9 739.2 498.0 739.1 499.1 739.0 500.1 738.9 501.2 738.8 502.3 738.7 503.3 738.6 504.4 738.5 505.5 738.4 506.5 738.3 507.6 738.2 508.6 738.1 509.7 738.0 510.8 737.9 511.8 737.8 512.9 737.7 514.0 737.6 515.0 737.6 516.1 737.5 517.2 737.4 518.2 737.3 519.3 737.2 520.4 737.1 521.4 737.1 522.5 737.0 523.5 736.9 524.6 736.8 525.7 736.7 526.7 736.7 527.8 736.6 528.9 736.5 529.9 736.4 531.0 736.4 532.1 736.3 533.1 736.2 534.2 736.1 535.3 736.1 536.3 736.0 537.4 735.9 538.4 735.9 539.5 735.8 540.6 735.7 541.6 735.6 542.7 735.6 543.8 735.5 544.8 735.4 545.9 735.4 547.0 735.3 548.0 735.2 549.1 735.2 550.2 735.1 551.2 735.1 552.3 735.0 553.3 734.9 554.4 734.9 555.5 734.8 556.5 734.7 557.6 734.7 558.7 734.6 559.7 734.6 560.8 734.5 561.9 734.4 562.9 734.4 564.0 734.3 565.1 734.3 566.1 734.2 567.2 734.1 568.2 734.1 569.3 734.0 570.4 734.0 571.4 733.9 572.5 733.9 573.6 733.8 574.6 733.7 575.7 733.7 576.8 733.6 577.8 733.6 578.9 733.5 580.0 733.5 581.0 733.4 582.1 733.4 583.2 733.3 584.2 733.3 585.3 733.2 586.3 733.2 587.4 733.1 588.5 733.1 589.5 733.0 590.6 733.0 591.7 732.9 592.7 732.9 593.8 732.8 594.9 732.8 595.9 732.7 597.0 732.7 598.1 732.6 599.1 732.6 600.2 732.5 601.2 732.5 602.3 732.4 603.4 732.4 604.4 732.3 605.5 732.3 606.6 732.2 607.6 732.2 608.7 732.1 609.8 732.1 610.8 732.0 611.9 732.0 613.0 732.0 614.0 731.9 615.1 731.9 616.1 731.8 617.2 731.8 618.3 731.7 619.3 731.7 620.4 731.6 621.5 731.6 622.5 731.6 623.6 731.5 624.7 731.5 625.7 731.4 626.8 731.4 627.9 731.4 628.9 731.3 630.0 731.3 631.0 731.2 632.1 731.2" fill="none" stroke="#0000ff" stroke-width="1.0" stroke-opacity="0.72"/>
<path d="M396.4 839.3 396.5 838.6 396.6 837.9 396.6 837.1 396.7 836.1 396.8 835.2 396.9 834.1 396.9 833.5 397.0 832.8 397.1 832.0 397.1 831.1 397.2 830.1 397.3 829.0 397.4 827.7 397.5 826.4 397.7 824.9 397.8 823.3 397.9 821.6 398.1 819.7 398.3 817.6 398.5 815.5 398.8 813.2 399.0 810.8 400.1 802.3 401.1 795.5 402.2 790.1 403.3 785.7 404.3 782.0 405.4 778.9 406.5 776.2 407.5 773.9 408.6 771.9 409.7 770.0 410.7 768.4 411.8 767.0 412.9 765.6 413.9 764.4 415.0 763.3 416.0 762.2 417.1 761.3 418.2 760.4 419.2 759.5 420.3 758.7 421.4 758.0 422.4 757.3 423.5 756.6 424.6 756.0 425.6 755.4 426.7 754.8 427.8 754.3 428.8 753.7 429.9 753.2 430.9 752.7 432.0 752.3 433.1 751.8 434.1 751.4 435.2 751.0 436.3 750.5 437.3 750.2 438.4 749.8 439.5 749.4 440.5 749.0 441.6 748.7 442.7 748.4 443.7 748.0 444.8 747.7 445.9 747.4 446.9 747.1 448.0 746.8 449.0 746.5 450.1 746.2 451.2 745.9 452.2 745.7 453.3 745.4 454.4 745.1 455.4 744.9 456.5 744.6 457.6 744.4 458.6 744.2 459.7 743.9 460.8 743.7 461.8 743.5 462.9 743.2 463.9 743.0 465.0 742.8 466.1 742.6 467.1 742.4 468.2 742.2 469.3 742.0 470.3 741.8 471.4 741.6 472.5 741.4 473.5 741.2 474.6 741.0 475.7 740.9 476.7 740.7 477.8 740.5 478.8 740.3 479.9 740.2 481.0 740.0 482.0 739.8 483.1 739.7 484.2 739.5 485.2 739.3 486.3 739.2 487.4 739.0 488.4 738.9 489.5 738.7 490.6 738.6 491.6 738.4 492.7 738.3 493.7 738.1 494.8 738.0 495.9 737.8 496.9 737.7 498.0 737.6 499.1 737.4 500.1 737.3 501.2 737.2 502.3 737.0 503.3 736.9 504.4 736.8 505.5 736.6 506.5 736.5 507.6 736.4 508.6 736.3 509.7 736.1 510.8 736.0 511.8 735.9 512.9 735.8 514.0 735.7 515.0 735.5 516.1 735.4 517.2 735.3 518.2 735.2 519.3 735.1 520.4 735.0 521.4 734.9 522.5 734.8 523.5 734.6 524.6 734.5 525.7 734.4 526.7 734.3 527.8 734.2 528.9 734.1 529.9 734.0 531.0 733.9 532.1 733.8 533.1 733.7 534.2 733.6 535.3 733.5 536.3 733.4 537.4 733.3 538.4 733.2 539.5 733.1 540.6 733.0 541.6 732.9 542.7 732.8 543.8 732.7 544.8 732.7 545.9 732.6 547.0 732.5 548.0 732.4 549.1 732.3 550.2 732.2 551.2 732.1 552.3 732.0 553.3 731.9 554.4 731.9 555.5 731.8 556.5 731.7 557.6 731.6 558.7 731.5 559.7 731.4 560.8 731.3 561.9 731.3 562.9 731.2 564.0 731.1 565.1 731.0 566.1 730.9 567.2 730.9 568.2 730.8 569.3 730.7 570.4 730.6 571.4 730.5 572.5 730.5 573.6 730.4 574.6 730.3 575.7 730.2 576.8 730.2 577.8 730.1 578.9 730.0 580.0 729.9 581.0 729.9 582.1 729.8 583.2 729.7 584.2 729.7 585.3 729.6 586.3 729.5 587.4 729.4 588.5 729.4 589.5 729.3 590.6 729.2 591.7 729.2 592.7 729.1 593.8 729.0 594.9 729.0 595.9 728.9 597.0 728.8 598.1 728.8 599.1 728.7 600.2 728.6 601.2 728.6 602.3 728.5 603.4 728.4 604.4 728.4 605.5 728.3 606.6 728.2 607.6 728.2 608.7 728.1 609.8 728.0 610.8 728.0 611.9 727.9 613.0 727.8 614.0 727.8 615.1 727.7 616.1 727.7 617.2 727.6 618.3 727.5 619.3 727.5 620.4 727.4 621.5 727.4 622.5 727.3 623.6 727.2 624.7 727.2 625.7 727.1 626.8 727.1 627.9 727.0 628.9 727.0 630.0 726.9 631.0 726.8 632.1 726.8" fill="none" stroke="#ff0000" stroke-width="1.0" stroke-opacity="0.72"/>
<path d="M396.4 839.3 396.5 838.6 396.6 837.9 396.7 837.2 396.8 836.4 396.9 835.7 397.1 834.8 397.2 833.7 397.3 833.1 397.4 832.4 397.5 831.6 397.7 830.7 397.8 829.7 397.9 828.6 398.1 827.4 398.3 826.0 398.5 824.4 398.8 822.7 399.0 820.9 400.1 813.8 401.1 807.9 402.2 803.0 403.3 799.0 404.3 795.7 405.4 793.0 406.5 790.6 407.5 788.6 408.6 786.7 409.7 785.1 410.7 783.7 411.8 782.3 412.9 781.1 413.9 780.0 415.0 778.9 416.0 777.9 417.1 777.0 418.2 776.1 419.2 775.2 420.3 774.5 421.4 773.7 422.4 773.0 423.5 772.3 424.6 771.6 425.6 771.0 426.7 770.4 427.8 769.8 428.8 769.2 429.9 768.6 430.9 768.1 432.0 767.6 433.1 767.1 434.1 766.6 435.2 766.1 436.3 765.6 437.3 765.2 438.4 764.8 439.5 764.3 440.5 763.9 441.6 763.5 442.7 763.1 443.7 762.7 444.8 762.3 445.9 762.0 446.9 761.6 448.0 761.2 449.0 760.9 450.1 760.5 451.2 760.2 452.2 759.9 453.3 759.5 454.4 759.2 455.4 758.9 456.5 758.6 457.6 758.3 458.6 758.0 459.7 757.7 460.8 757.4 461.8 757.2 462.9 756.9 463.9 756.6 465.0 756.3 466.1 756.1 467.1 755.8 468.2 755.6 469.3 755.3 470.3 755.0 471.4 754.8 472.5 754.6 473.5 754.3 474.6 754.1 475.7 753.9 476.7 753.6 477.8 753.4 478.8 753.2 479.9 752.9 481.0 752.7 482.0 752.5 483.1 752.3 484.2 752.1 485.2 751.9 486.3 751.7 487.4 751.5 488.4 751.3 489.5 751.1 490.6 750.9 491.6 750.7 492.7 750.5 493.7 750.3 494.8 750.1 495.9 749.9 496.9 749.7 498.0 749.6 499.1 749.4 500.1 749.2 501.2 749.0 502.3 748.8 503.3 748.7 504.4 748.5 505.5 748.3 506.5 748.2 507.6 748.0 508.6 747.8 509.7 747.7 510.8 747.5 511.8 747.3 512.9 747.2 514.0 747.0 515.0 746.9 516.1 746.7 517.2 746.6 518.2 746.4 519.3 746.3 520.4 746.1 521.4 746.0 522.5 745.8 523.5 745.7 524.6 745.5 525.7 745.4 526.7 745.2 527.8 745.1 528.9 745.0 529.9 744.8 531.0 744.7 532.1 744.5 533.1 744.4 534.2 744.3 535.3 744.1 536.3 744.0 537.4 743.9 538.4 743.7 539.5 743.6 540.6 743.5 541.6 743.4 542.7 743.2 543.8 743.1 544.8 743.0 545.9 742.9 547.0 742.7 548.0 742.6 549.1 742.5 550.2 742.4 551.2 742.2 552.3 742.1 553.3 742.0 554.4 741.9 555.5 741.8 556.5 741.7 557.6 741.5 558.7 741.4 559.7 741.3 560.8 741.2 561.9 741.1 562.9 741.0 564.0 740.9 565.1 740.8 566.1 740.6 567.2 740.5 568.2 740.4 569.3 740.3 570.4 740.2 571.4 740.1 572.5 740.0 573.6 739.9 574.6 739.8 575.7 739.7 576.8 739.6 577.8 739.5 578.9 739.4 580.0 739.3 581.0 739.2 582.1 739.1 583.2 739.0 584.2 738.9 585.3 738.8 586.3 738.7 587.4 738.6 588.5 738.5 589.5 738.4 590.6 738.3 591.7 738.2 592.7 738.1 593.8 738.0 594.9 737.9 595.9 737.8 597.0 737.7 598.1 737.6 599.1 737.5 600.2 737.5 601.2 737.4 602.3 737.3 603.4 737.2 604.4 737.1 605.5 737.0 606.6 736.9 607.6 736.8 608.7 736.7 609.8 736.7 610.8 736.6 611.9 736.5 613.0 736.4 614.0 736.3 615.1 736.2 616.1 736.1 617.2 736.1 618.3 736.0 619.3 735.9 620.4 735.8 621.5 735.7 622.5 735.6 623.6 735.6 624.7 735.5 625.7 735.4 626.8 735.3 627.9 735.2 628.9 735.1 630.0 735.1 631.0 735.0 632.1 734.9" fill="none" stroke="#000000" stroke-width="1.0" stroke-opacity="0.72"/>
<rect x="396.4" y="641.3" width="261.90" height="198.00" fill="none" stroke="#767676" stroke-width="1"/>
<path d="M448.78 839.3v-2.6M448.78 641.3v2.6M501.16 839.3v-2.6M501.16 641.3v2.6M553.54 839.3v-2.6M553.54 641.3v2.6M605.92 839.3v-2.6M605.92 641.3v2.6M396.4 799.70h2.6M658.3 799.70h-2.6M396.4 760.10h2.6M658.3 760.10h-2.6M396.4 720.50h2.6M658.3 720.50h-2.6M396.4 680.90h2.6M658.3 680.90h-2.6" stroke="#8c8c8c" stroke-width="1" fill="none"/>
<text x="393.37" y="855.10" font-size="10.9" fill="#262626">0</text>
<text x="442.72" y="855.10" font-size="10.9" fill="#262626">20</text>
<text x="495.10" y="855.10" font-size="10.9" fill="#262626">40</text>
<text x="547.48" y="855.10" font-size="10.9" fill="#262626">60</text>
<text x="599.86" y="855.10" font-size="10.9" fill="#262626">80</text>
<path transform="translate(649.21 855.10) scale(0.00532 -0.00532)" d="M763 0L583 0L583 1147Q518 1085 412 1023Q306 961 222 930L222 1104Q373 1175 486 1276Q599 1377 646 1466L763 1466Z" fill="#262626"/>
<text x="655.27" y="855.10" font-size="10.9" fill="#262626">0</text>
<text x="661.33" y="855.10" font-size="10.9" fill="#262626">0</text>
<text x="386.04" y="843.55" font-size="10.9" fill="#262626">0</text>
<text x="379.98" y="803.95" font-size="10.9" fill="#262626">20</text>
<text x="379.98" y="764.35" font-size="10.9" fill="#262626">40</text>
<text x="379.98" y="724.75" font-size="10.9" fill="#262626">60</text>
<text x="379.98" y="685.15" font-size="10.9" fill="#262626">80</text>
<path transform="translate(373.91 645.55) scale(0.00532 -0.00532)" d="M763 0L583 0L583 1147Q518 1085 412 1023Q306 961 222 930L222 1104Q373 1175 486 1276Q599 1377 646 1466L763 1466Z" fill="#262626"/>
<text x="379.98" y="645.55" font-size="10.9" fill="#262626">0</text>
<text x="386.04" y="645.55" font-size="10.9" fill="#262626">0</text>
<text x="497.71" y="872.30" font-family="Liberation Sans, sans-serif" font-size="12.6" letter-spacing="0.056" fill="#262626">time(days)</text>
<text transform="translate(368.00 817.00) rotate(-90)" x="-0.50" y="0" font-family="Liberation Sans, sans-serif" font-size="12.6" letter-spacing="0.103" fill="#262626">compressive strength(MPa)</text>
<text x="411.10" y="663.80" font-family="Liberation Serif, serif" font-weight="bold" font-size="20.5" letter-spacing="0.000" fill="#000">f</text>
<rect x="540.4" y="649.1" width="109.70" height="42.70" fill="#fff" stroke="#767676" stroke-width="1"/>
<path d="M542.9 657.70H566.6" stroke="#0000ff" stroke-width="1" stroke-opacity="0.6"/>
<text x="568.95" y="661.40" font-size="10.3" fill="#262626">w/b 0.5-no slag</text>
<path d="M542.9 671.15H566.6" stroke="#ff0000" stroke-width="1" stroke-opacity="0.6"/>
<text x="568.95" y="674.85" font-size="10.3" fill="#262626">w/b 0.5-25% slag</text>
<path d="M542.9 684.60H566.6" stroke="#000000" stroke-width="1" stroke-opacity="0.6"/>
<text x="568.95" y="688.30" font-size="10.3" fill="#262626">w/b 0.5-50% slag</text>
<text x="376.97" y="901.00" font-family="Liberation Serif, serif" font-size="17.15" letter-spacing="0.007" fill="#000">Effect of slag on strength of concrete with</text>
<text x="383.50" y="934.20" font-family="Liberation Serif, serif" font-size="17.15" letter-spacing="0.029" fill="#000">a high water-to-binder ratio (w/b = 0.5).</text>
</svg>
</body></html>
